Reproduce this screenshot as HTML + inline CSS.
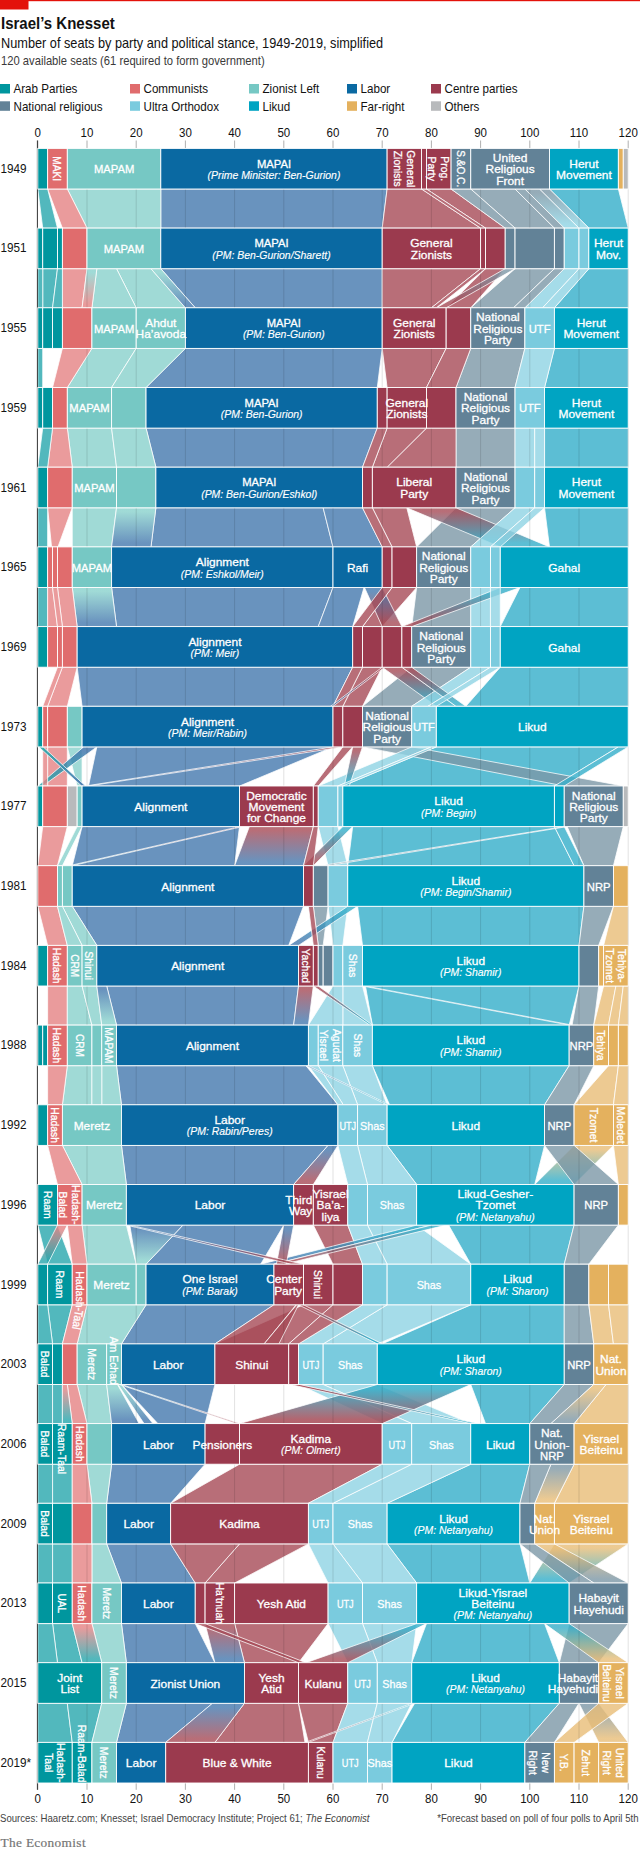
<!DOCTYPE html>
<html lang="en"><head><meta charset="utf-8"><title>Israel’s Knesset</title>
<style>html,body{margin:0;padding:0;background:#fff}svg{display:block}</style></head>
<body>
<svg width="640" height="1851" viewBox="0 0 640 1851" font-family='"Liberation Sans", sans-serif'>
<defs><linearGradient id="g1" x1="0" y1="0" x2="0" y2="1"><stop offset="0.1" stop-color="#7C97A6"/><stop offset="0.9" stop-color="#8ED3E3"/></linearGradient><linearGradient id="g2" x1="0" y1="0" x2="0" y2="1"><stop offset="0.1" stop-color="#7C97A6"/><stop offset="0.9" stop-color="#8ED3E3"/></linearGradient><linearGradient id="g3" x1="0" y1="0" x2="0" y2="1"><stop offset="0.1" stop-color="#88D1CC"/><stop offset="0.9" stop-color="#E58283"/></linearGradient><linearGradient id="g4" x1="0" y1="0" x2="0" y2="1"><stop offset="0.1" stop-color="#88D1CC"/><stop offset="0.9" stop-color="#4478AE"/></linearGradient><linearGradient id="g5" x1="0" y1="0" x2="0" y2="1"><stop offset="0.1" stop-color="#7C97A6"/><stop offset="0.9" stop-color="#A64A56"/></linearGradient><linearGradient id="g6" x1="0" y1="0" x2="0" y2="1"><stop offset="0.1" stop-color="#A64A56"/><stop offset="0.9" stop-color="#33AEC9"/></linearGradient><linearGradient id="g7" x1="0" y1="0" x2="0" y2="1"><stop offset="0.1" stop-color="#88D1CC"/><stop offset="0.9" stop-color="#4478AE"/></linearGradient><linearGradient id="g8" x1="0" y1="0" x2="0" y2="1"><stop offset="0.1" stop-color="#88D1CC"/><stop offset="0.9" stop-color="#4478AE"/></linearGradient><linearGradient id="g9" x1="0" y1="0" x2="0" y2="1"><stop offset="0.1" stop-color="#4478AE"/><stop offset="0.9" stop-color="#A64A56"/></linearGradient><linearGradient id="g10" x1="0" y1="0" x2="0" y2="1"><stop offset="0.1" stop-color="#33AEC9"/><stop offset="0.9" stop-color="#A64A56"/></linearGradient><linearGradient id="g11" x1="0" y1="0" x2="0" y2="1"><stop offset="0.1" stop-color="#A64A56"/><stop offset="0.9" stop-color="#33AEC9"/></linearGradient><linearGradient id="g12" x1="0" y1="0" x2="0" y2="1"><stop offset="0.1" stop-color="#A64A56"/><stop offset="0.9" stop-color="#33AEC9"/></linearGradient><linearGradient id="g13" x1="0" y1="0" x2="0" y2="1"><stop offset="0.1" stop-color="#A64A56"/><stop offset="0.9" stop-color="#4478AE"/></linearGradient><linearGradient id="g14" x1="0" y1="0" x2="0" y2="1"><stop offset="0.1" stop-color="#4478AE"/><stop offset="0.9" stop-color="#27A6AC"/></linearGradient><linearGradient id="g15" x1="0" y1="0" x2="0" y2="1"><stop offset="0.1" stop-color="#A64A56"/><stop offset="0.9" stop-color="#33AEC9"/></linearGradient><linearGradient id="g16" x1="0" y1="0" x2="0" y2="1"><stop offset="0.1" stop-color="#A64A56"/><stop offset="0.9" stop-color="#4478AE"/></linearGradient><linearGradient id="g17" x1="0" y1="0" x2="0" y2="1"><stop offset="0.1" stop-color="#27A6AC"/><stop offset="0.9" stop-color="#4478AE"/></linearGradient><linearGradient id="g18" x1="0" y1="0" x2="0" y2="1"><stop offset="0.1" stop-color="#A64A56"/><stop offset="0.9" stop-color="#4478AE"/></linearGradient><linearGradient id="g19" x1="0" y1="0" x2="0" y2="1"><stop offset="0.1" stop-color="#33AEC9"/><stop offset="0.9" stop-color="#A64A56"/></linearGradient><linearGradient id="g20" x1="0" y1="0" x2="0" y2="1"><stop offset="0.1" stop-color="#A64A56"/><stop offset="0.9" stop-color="#88D1CC"/></linearGradient><linearGradient id="g21" x1="0" y1="0" x2="0" y2="1"><stop offset="0.1" stop-color="#33AEC9"/><stop offset="0.9" stop-color="#4478AE"/></linearGradient><linearGradient id="g22" x1="0" y1="0" x2="0" y2="1"><stop offset="0.1" stop-color="#A64A56"/><stop offset="0.9" stop-color="#4478AE"/></linearGradient><linearGradient id="g23" x1="0" y1="0" x2="0" y2="1"><stop offset="0.1" stop-color="#4478AE"/><stop offset="0.9" stop-color="#88D1CC"/></linearGradient><linearGradient id="g24" x1="0" y1="0" x2="0" y2="1"><stop offset="0.1" stop-color="#A64A56"/><stop offset="0.9" stop-color="#33AEC9"/></linearGradient><linearGradient id="g25" x1="0" y1="0" x2="0" y2="1"><stop offset="0.1" stop-color="#33AEC9"/><stop offset="0.9" stop-color="#7C97A6"/></linearGradient><linearGradient id="g26" x1="0" y1="0" x2="0" y2="1"><stop offset="0.1" stop-color="#4478AE"/><stop offset="0.9" stop-color="#33AEC9"/></linearGradient><linearGradient id="g27" x1="0" y1="0" x2="0" y2="1"><stop offset="0.1" stop-color="#E8BD77"/><stop offset="0.9" stop-color="#33AEC9"/></linearGradient><linearGradient id="g28" x1="0" y1="0" x2="0" y2="1"><stop offset="0.1" stop-color="#4478AE"/><stop offset="0.9" stop-color="#A64A56"/></linearGradient><linearGradient id="g29" x1="0" y1="0" x2="0" y2="1"><stop offset="0.1" stop-color="#4478AE"/><stop offset="0.9" stop-color="#88D1CC"/></linearGradient><linearGradient id="g30" x1="0" y1="0" x2="0" y2="1"><stop offset="0.1" stop-color="#33AEC9"/><stop offset="0.9" stop-color="#4478AE"/></linearGradient><linearGradient id="g31" x1="0" y1="0" x2="0" y2="1"><stop offset="0.1" stop-color="#33AEC9"/><stop offset="0.9" stop-color="#A64A56"/></linearGradient><linearGradient id="g32" x1="0" y1="0" x2="0" y2="1"><stop offset="0.1" stop-color="#E58283"/><stop offset="0.9" stop-color="#27A6AC"/></linearGradient><linearGradient id="g33" x1="0" y1="0" x2="0" y2="1"><stop offset="0.1" stop-color="#4478AE"/><stop offset="0.9" stop-color="#A64A56"/></linearGradient><linearGradient id="g34" x1="0" y1="0" x2="0" y2="1"><stop offset="0.1" stop-color="#4478AE"/><stop offset="0.9" stop-color="#A64A56"/></linearGradient><linearGradient id="g35" x1="0" y1="0" x2="0" y2="1"><stop offset="0.1" stop-color="#A64A56"/><stop offset="0.9" stop-color="#33AEC9"/></linearGradient><linearGradient id="g36" x1="0" y1="0" x2="0" y2="1"><stop offset="0.1" stop-color="#88D1CC"/><stop offset="0.9" stop-color="#4478AE"/></linearGradient><linearGradient id="g37" x1="0" y1="0" x2="0" y2="1"><stop offset="0.1" stop-color="#E8BD77"/><stop offset="0.9" stop-color="#7C97A6"/></linearGradient><linearGradient id="g38" x1="0" y1="0" x2="0" y2="1"><stop offset="0.1" stop-color="#E58283"/><stop offset="0.9" stop-color="#27A6AC"/></linearGradient><linearGradient id="g39" x1="0" y1="0" x2="0" y2="1"><stop offset="0.1" stop-color="#88D1CC"/><stop offset="0.9" stop-color="#4478AE"/></linearGradient><linearGradient id="g40" x1="0" y1="0" x2="0" y2="1"><stop offset="0.1" stop-color="#88D1CC"/><stop offset="0.9" stop-color="#A64A56"/></linearGradient><linearGradient id="g41" x1="0" y1="0" x2="0" y2="1"><stop offset="0.1" stop-color="#33AEC9"/><stop offset="0.9" stop-color="#A64A56"/></linearGradient><linearGradient id="g42" x1="0" y1="0" x2="0" y2="1"><stop offset="0.1" stop-color="#A64A56"/><stop offset="0.9" stop-color="#33AEC9"/></linearGradient><linearGradient id="g43" x1="0" y1="0" x2="0" y2="1"><stop offset="0.1" stop-color="#7C97A6"/><stop offset="0.9" stop-color="#E8BD77"/></linearGradient><linearGradient id="g44" x1="0" y1="0" x2="0" y2="1"><stop offset="0.1" stop-color="#E8BD77"/><stop offset="0.9" stop-color="#33AEC9"/></linearGradient><linearGradient id="g45" x1="0" y1="0" x2="0" y2="1"><stop offset="0.1" stop-color="#E8BD77"/><stop offset="0.9" stop-color="#7C97A6"/></linearGradient><linearGradient id="g46" x1="0" y1="0" x2="0" y2="1"><stop offset="0.1" stop-color="#A64A56"/><stop offset="0.9" stop-color="#4478AE"/></linearGradient><linearGradient id="g47" x1="0" y1="0" x2="0" y2="1"><stop offset="0.1" stop-color="#33AEC9"/><stop offset="0.9" stop-color="#E8BD77"/></linearGradient><linearGradient id="g48" x1="0" y1="0" x2="0" y2="1"><stop offset="0.1" stop-color="#33AEC9"/><stop offset="0.9" stop-color="#A64A56"/></linearGradient><linearGradient id="g49" x1="0" y1="0" x2="0" y2="1"><stop offset="0.1" stop-color="#E58283"/><stop offset="0.9" stop-color="#27A6AC"/></linearGradient><linearGradient id="g50" x1="0" y1="0" x2="0" y2="1"><stop offset="0.1" stop-color="#4478AE"/><stop offset="0.9" stop-color="#A64A56"/></linearGradient><linearGradient id="g51" x1="0" y1="0" x2="0" y2="1"><stop offset="0.1" stop-color="#7C97A6"/><stop offset="0.9" stop-color="#E8BD77"/></linearGradient><linearGradient id="g52" x1="0" y1="0" x2="0" y2="1"><stop offset="0.1" stop-color="#33AEC9"/><stop offset="0.9" stop-color="#A64A56"/></linearGradient></defs>
<rect x="0" y="0" width="640" height="1.2" fill="#E3120B"/>
<rect x="0" y="0" width="28.5" height="9.5" fill="#E3120B"/>
<text transform="translate(1,29) scale(0.95,1)" font-size="15.8" fill="#121212" font-weight="bold">Israel’s Knesset</text>
<text transform="translate(1,47.6) scale(0.91,1)" font-size="14" fill="#121212">Number of seats by party and political stance, 1949-2019, simplified</text>
<text transform="translate(1,65.3) scale(0.87,1)" font-size="12.9" fill="#3a3a3a">120 available seats (61 required to form government)</text>
<rect x="0" y="84" width="10" height="9.5" fill="#00969E"/>
<text transform="translate(13.5,93.2) scale(0.93,1)" font-size="12.5" fill="#121212">Arab Parties</text>
<rect x="130" y="84" width="10" height="9.5" fill="#E06C6D"/>
<text transform="translate(143.5,93.2) scale(0.93,1)" font-size="12.5" fill="#121212">Communists</text>
<rect x="249" y="84" width="10" height="9.5" fill="#76C8C4"/>
<text transform="translate(262.5,93.2) scale(0.93,1)" font-size="12.5" fill="#121212">Zionist Left</text>
<rect x="347" y="84" width="10" height="9.5" fill="#0A69A2"/>
<text transform="translate(360.5,93.2) scale(0.93,1)" font-size="12.5" fill="#121212">Labor</text>
<rect x="431" y="84" width="10" height="9.5" fill="#9B3A4E"/>
<text transform="translate(444.5,93.2) scale(0.93,1)" font-size="12.5" fill="#121212">Centre parties</text>
<rect x="0" y="101.3" width="10" height="9.5" fill="#628297"/>
<text transform="translate(13.5,110.5) scale(0.93,1)" font-size="12.5" fill="#121212">National religious</text>
<rect x="130" y="101.3" width="10" height="9.5" fill="#7ACBDE"/>
<text transform="translate(143.5,110.5) scale(0.93,1)" font-size="12.5" fill="#121212">Ultra Orthodox</text>
<rect x="249" y="101.3" width="10" height="9.5" fill="#00A4C2"/>
<text transform="translate(262.5,110.5) scale(0.93,1)" font-size="12.5" fill="#121212">Likud</text>
<rect x="347" y="101.3" width="10" height="9.5" fill="#E4B15E"/>
<text transform="translate(360.5,110.5) scale(0.93,1)" font-size="12.5" fill="#121212">Far-right</text>
<rect x="431" y="101.3" width="10" height="9.5" fill="#B8BABC"/>
<text transform="translate(444.5,110.5) scale(0.93,1)" font-size="12.5" fill="#121212">Others</text>
<text transform="translate(37.8,137) scale(0.9,1)" font-size="12.8" fill="#121212" text-anchor="middle">0</text>
<text transform="translate(37.8,1802.6) scale(0.9,1)" font-size="12.8" fill="#121212" text-anchor="middle">0</text>
<line x1="37.8" y1="140.5" x2="37.8" y2="148.4" stroke="#9a9a9a" stroke-width="0.8"/>
<line x1="37.8" y1="1783" x2="37.8" y2="1789.8" stroke="#9a9a9a" stroke-width="0.8"/>
<text transform="translate(87,137) scale(0.9,1)" font-size="12.8" fill="#121212" text-anchor="middle">10</text>
<text transform="translate(87,1802.6) scale(0.9,1)" font-size="12.8" fill="#121212" text-anchor="middle">10</text>
<line x1="87" y1="140.5" x2="87" y2="148.4" stroke="#9a9a9a" stroke-width="0.8"/>
<line x1="87" y1="1783" x2="87" y2="1789.8" stroke="#9a9a9a" stroke-width="0.8"/>
<text transform="translate(136.2,137) scale(0.9,1)" font-size="12.8" fill="#121212" text-anchor="middle">20</text>
<text transform="translate(136.2,1802.6) scale(0.9,1)" font-size="12.8" fill="#121212" text-anchor="middle">20</text>
<line x1="136.2" y1="140.5" x2="136.2" y2="148.4" stroke="#9a9a9a" stroke-width="0.8"/>
<line x1="136.2" y1="1783" x2="136.2" y2="1789.8" stroke="#9a9a9a" stroke-width="0.8"/>
<text transform="translate(185.4,137) scale(0.9,1)" font-size="12.8" fill="#121212" text-anchor="middle">30</text>
<text transform="translate(185.4,1802.6) scale(0.9,1)" font-size="12.8" fill="#121212" text-anchor="middle">30</text>
<line x1="185.4" y1="140.5" x2="185.4" y2="148.4" stroke="#9a9a9a" stroke-width="0.8"/>
<line x1="185.4" y1="1783" x2="185.4" y2="1789.8" stroke="#9a9a9a" stroke-width="0.8"/>
<text transform="translate(234.6,137) scale(0.9,1)" font-size="12.8" fill="#121212" text-anchor="middle">40</text>
<text transform="translate(234.6,1802.6) scale(0.9,1)" font-size="12.8" fill="#121212" text-anchor="middle">40</text>
<line x1="234.6" y1="140.5" x2="234.6" y2="148.4" stroke="#9a9a9a" stroke-width="0.8"/>
<line x1="234.6" y1="1783" x2="234.6" y2="1789.8" stroke="#9a9a9a" stroke-width="0.8"/>
<text transform="translate(283.8,137) scale(0.9,1)" font-size="12.8" fill="#121212" text-anchor="middle">50</text>
<text transform="translate(283.8,1802.6) scale(0.9,1)" font-size="12.8" fill="#121212" text-anchor="middle">50</text>
<line x1="283.8" y1="140.5" x2="283.8" y2="148.4" stroke="#9a9a9a" stroke-width="0.8"/>
<line x1="283.8" y1="1783" x2="283.8" y2="1789.8" stroke="#9a9a9a" stroke-width="0.8"/>
<text transform="translate(333,137) scale(0.9,1)" font-size="12.8" fill="#121212" text-anchor="middle">60</text>
<text transform="translate(333,1802.6) scale(0.9,1)" font-size="12.8" fill="#121212" text-anchor="middle">60</text>
<line x1="333" y1="140.5" x2="333" y2="148.4" stroke="#9a9a9a" stroke-width="0.8"/>
<line x1="333" y1="1783" x2="333" y2="1789.8" stroke="#9a9a9a" stroke-width="0.8"/>
<text transform="translate(382.2,137) scale(0.9,1)" font-size="12.8" fill="#121212" text-anchor="middle">70</text>
<text transform="translate(382.2,1802.6) scale(0.9,1)" font-size="12.8" fill="#121212" text-anchor="middle">70</text>
<line x1="382.2" y1="140.5" x2="382.2" y2="148.4" stroke="#9a9a9a" stroke-width="0.8"/>
<line x1="382.2" y1="1783" x2="382.2" y2="1789.8" stroke="#9a9a9a" stroke-width="0.8"/>
<text transform="translate(431.4,137) scale(0.9,1)" font-size="12.8" fill="#121212" text-anchor="middle">80</text>
<text transform="translate(431.4,1802.6) scale(0.9,1)" font-size="12.8" fill="#121212" text-anchor="middle">80</text>
<line x1="431.4" y1="140.5" x2="431.4" y2="148.4" stroke="#9a9a9a" stroke-width="0.8"/>
<line x1="431.4" y1="1783" x2="431.4" y2="1789.8" stroke="#9a9a9a" stroke-width="0.8"/>
<text transform="translate(480.6,137) scale(0.9,1)" font-size="12.8" fill="#121212" text-anchor="middle">90</text>
<text transform="translate(480.6,1802.6) scale(0.9,1)" font-size="12.8" fill="#121212" text-anchor="middle">90</text>
<line x1="480.6" y1="140.5" x2="480.6" y2="148.4" stroke="#9a9a9a" stroke-width="0.8"/>
<line x1="480.6" y1="1783" x2="480.6" y2="1789.8" stroke="#9a9a9a" stroke-width="0.8"/>
<text transform="translate(529.8,137) scale(0.9,1)" font-size="12.8" fill="#121212" text-anchor="middle">100</text>
<text transform="translate(529.8,1802.6) scale(0.9,1)" font-size="12.8" fill="#121212" text-anchor="middle">100</text>
<line x1="529.8" y1="140.5" x2="529.8" y2="148.4" stroke="#9a9a9a" stroke-width="0.8"/>
<line x1="529.8" y1="1783" x2="529.8" y2="1789.8" stroke="#9a9a9a" stroke-width="0.8"/>
<text transform="translate(579,137) scale(0.9,1)" font-size="12.8" fill="#121212" text-anchor="middle">110</text>
<text transform="translate(579,1802.6) scale(0.9,1)" font-size="12.8" fill="#121212" text-anchor="middle">110</text>
<line x1="579" y1="140.5" x2="579" y2="148.4" stroke="#9a9a9a" stroke-width="0.8"/>
<line x1="579" y1="1783" x2="579" y2="1789.8" stroke="#9a9a9a" stroke-width="0.8"/>
<text transform="translate(628.2,137) scale(0.9,1)" font-size="12.8" fill="#121212" text-anchor="middle">120</text>
<text transform="translate(628.2,1802.6) scale(0.9,1)" font-size="12.8" fill="#121212" text-anchor="middle">120</text>
<line x1="628.2" y1="140.5" x2="628.2" y2="148.4" stroke="#9a9a9a" stroke-width="0.8"/>
<line x1="628.2" y1="1783" x2="628.2" y2="1789.8" stroke="#9a9a9a" stroke-width="0.8"/>
<g fill-opacity="0.8" stroke="#fff" stroke-width="0.8" stroke-opacity="0.95" stroke-linejoin="round">
<polygon points="160.8,189 387.12,189 382.2,228.1 160.8,228.1" fill="#4478AE"/>
<polygon points="67.32,189 160.8,189 160.8,228.1 87,228.1" fill="#88D1CC"/>
<polygon points="387.12,189 421.56,189 480.6,228.1 382.2,228.1" fill="#A64A56"/>
<polygon points="549.48,189 618.36,189 628.2,228.1 588.84,228.1" fill="#33AEC9"/>
<polygon points="470.76,189 515.04,189 554.4,228.1 515.04,228.1" fill="#7C97A6"/>
<polygon points="47.64,189 67.32,189 87,228.1 62.4,228.1" fill="#E58283"/>
<polygon points="426.48,189 451.08,189 505.2,228.1 485.52,228.1" fill="#A64A56"/>
<polygon points="451.08,189 470.76,189 515.04,228.1 505.2,228.1" fill="#7C97A6"/>
<polygon points="524.88,189 539.64,189 579,228.1 564.24,228.1" fill="url(#g1)"/>
<polygon points="37.8,189 47.64,189 57.48,228.1 42.72,228.1" fill="#27A6AC"/>
<polygon points="515.04,189 524.88,189 564.24,228.1 554.4,228.1" fill="#7C97A6"/>
<polygon points="539.64,189 549.48,189 588.84,228.1 579,228.1" fill="url(#g2)"/>
<polygon points="421.56,189 426.48,189 485.52,228.1 480.6,228.1" fill="#A64A56"/>
<polygon points="160.8,268.7 382.2,268.7 382.2,307.8 195.24,307.8" fill="#4478AE"/>
<polygon points="382.2,268.7 480.6,268.7 431.4,307.8 382.2,307.8" fill="#A64A56"/>
<polygon points="588.84,268.7 628.2,268.7 628.2,307.8 554.4,307.8" fill="#33AEC9"/>
<polygon points="116.52,268.7 150.96,268.7 185.4,307.8 136.2,307.8" fill="#88D1CC"/>
<polygon points="515.04,268.7 554.4,268.7 513.56,307.8 470.76,307.8" fill="#7C97A6"/>
<polygon points="96.84,268.7 116.52,268.7 136.2,307.8 91.92,307.8" fill="#88D1CC"/>
<polygon points="62.4,268.7 87,268.7 82.08,307.8 62.4,307.8" fill="#E58283"/>
<polygon points="485.52,268.7 505.2,268.7 470.76,307.8 446.16,307.8" fill="#A64A56"/>
<polygon points="564.24,268.7 579,268.7 542.59,307.8 524.88,307.8" fill="#8ED3E3"/>
<polygon points="42.72,268.7 57.48,268.7 52.56,307.8 42.72,307.8" fill="#27A6AC"/>
<polygon points="579,268.7 588.84,268.7 554.4,307.8 542.59,307.8" fill="#8ED3E3"/>
<polygon points="554.4,268.7 564.24,268.7 524.88,307.8 513.56,307.8" fill="#7C97A6"/>
<polygon points="87,268.7 96.84,268.7 91.92,307.8 82.08,307.8" fill="url(#g3)"/>
<polygon points="150.96,268.7 160.8,268.7 195.24,307.8 185.4,307.8" fill="url(#g4)"/>
<polygon points="505.2,268.7 515.04,268.7 446.16,307.8 436.32,307.8" fill="url(#g5)"/>
<polygon points="57.48,268.7 62.4,268.7 62.4,307.8 52.56,307.8" fill="#27A6AC"/>
<polygon points="37.8,268.7 42.72,268.7 42.72,307.8 37.8,307.8" fill="#27A6AC"/>
<polygon points="480.6,268.7 485.52,268.7 436.32,307.8 431.4,307.8" fill="#A64A56"/>
<polygon points="185.4,348.4 382.2,348.4 377.28,387.5 146.04,387.5" fill="#4478AE"/>
<polygon points="554.4,348.4 628.2,348.4 628.2,387.5 544.56,387.5" fill="#33AEC9"/>
<polygon points="470.76,348.4 524.88,348.4 515.04,387.5 456,387.5" fill="#7C97A6"/>
<polygon points="382.2,348.4 446.16,348.4 426.48,387.5 387.12,387.5" fill="#A64A56"/>
<polygon points="91.92,348.4 136.2,348.4 111.6,387.5 67.32,387.5" fill="#88D1CC"/>
<polygon points="136.2,348.4 185.4,348.4 146.04,387.5 111.6,387.5" fill="#88D1CC"/>
<polygon points="524.88,348.4 554.4,348.4 544.56,387.5 515.04,387.5" fill="#8ED3E3"/>
<polygon points="446.16,348.4 470.76,348.4 456,387.5 426.48,387.5" fill="#A64A56"/>
<polygon points="62.4,348.4 91.92,348.4 67.32,387.5 52.56,387.5" fill="#E58283"/>
<polygon points="37.8,348.4 42.72,348.4 42.72,387.5 37.8,387.5" fill="#27A6AC"/>
<polygon points="146.04,428.1 377.28,428.1 362.52,467.2 155.88,467.2" fill="#4478AE"/>
<polygon points="544.56,428.1 628.2,428.1 628.2,467.2 544.56,467.2" fill="#33AEC9"/>
<polygon points="456,428.1 515.04,428.1 515.04,467.2 456,467.2" fill="#7C97A6"/>
<polygon points="426.48,428.1 456,428.1 456,467.2 387.12,467.2" fill="#A64A56"/>
<polygon points="67.32,428.1 111.6,428.1 116.52,467.2 72.24,467.2" fill="#88D1CC"/>
<polygon points="111.6,428.1 146.04,428.1 155.88,467.2 116.52,467.2" fill="#88D1CC"/>
<polygon points="387.12,428.1 426.48,428.1 387.12,467.2 372.36,467.2" fill="#A64A56"/>
<polygon points="52.56,428.1 67.32,428.1 72.24,467.2 47.64,467.2" fill="#E58283"/>
<polygon points="515.04,428.1 534.72,428.1 534.72,467.2 515.04,467.2" fill="#8ED3E3"/>
<polygon points="42.72,428.1 52.56,428.1 47.64,467.2 37.8,467.2" fill="#27A6AC"/>
<polygon points="377.28,428.1 387.12,428.1 372.36,467.2 362.52,467.2" fill="#A64A56"/>
<polygon points="534.72,428.1 544.56,428.1 544.56,467.2 534.72,467.2" fill="#8ED3E3"/>
<polygon points="155.88,507.8 323.16,507.8 333,546.9 150.96,546.9" fill="#4478AE"/>
<polygon points="544.56,507.8 628.2,507.8 628.2,546.9 549.48,546.9" fill="#33AEC9"/>
<polygon points="456,507.8 515.04,507.8 470.76,546.9 416.64,546.9" fill="#7C97A6"/>
<polygon points="406.8,507.8 456,507.8 549.48,546.9 500.28,546.9" fill="url(#g6)"/>
<polygon points="323.16,507.8 362.52,507.8 382.2,546.9 333,546.9" fill="#4478AE"/>
<polygon points="72.24,507.8 116.52,507.8 111.6,546.9 72.24,546.9" fill="#88D1CC"/>
<polygon points="116.52,507.8 155.88,507.8 150.96,546.9 111.6,546.9" fill="url(#g7)"/>
<polygon points="372.36,507.8 406.8,507.8 416.64,546.9 392.04,546.9" fill="#A64A56"/>
<polygon points="515.04,507.8 534.72,507.8 490.44,546.9 470.76,546.9" fill="#8ED3E3"/>
<polygon points="47.64,507.8 72.24,507.8 57.97,546.9 51.58,546.9" fill="#E58283"/>
<polygon points="37.8,507.8 47.64,507.8 47.64,546.9 37.8,546.9" fill="#27A6AC"/>
<polygon points="362.52,507.8 372.36,507.8 392.04,546.9 382.2,546.9" fill="#A64A56"/>
<polygon points="534.72,507.8 544.56,507.8 500.28,546.9 490.44,546.9" fill="#8ED3E3"/>
<polygon points="111.6,587.5 333,587.5 318.24,626.6 116.52,626.6" fill="#4478AE"/>
<polygon points="519.96,587.5 628.2,587.5 628.2,626.6 500.28,626.6" fill="#33AEC9"/>
<polygon points="416.64,587.5 470.76,587.5 470.76,626.6 411.72,626.6" fill="#7C97A6"/>
<polygon points="72.24,587.5 111.6,587.5 116.52,626.6 77.16,626.6" fill="url(#g8)"/>
<polygon points="333,587.5 364,587.5 352.68,626.6 318.24,626.6" fill="#4478AE"/>
<polygon points="392.04,587.5 416.64,587.5 382.2,626.6 362.52,626.6" fill="#A64A56"/>
<polygon points="470.76,587.5 490.44,587.5 490.44,626.6 470.76,626.6" fill="#8ED3E3"/>
<polygon points="364.49,587.5 382.2,587.5 401.88,626.6 382.2,626.6" fill="url(#g9)"/>
<polygon points="57.48,587.5 72.24,587.5 77.16,626.6 62.4,626.6" fill="#E58283"/>
<polygon points="500.28,587.5 519.96,587.5 411.72,626.6 401.88,626.6" fill="url(#g10)"/>
<polygon points="37.8,587.5 47.64,587.5 47.64,626.6 37.8,626.6" fill="#27A6AC"/>
<polygon points="382.2,587.5 392.04,587.5 362.52,626.6 352.68,626.6" fill="#A64A56"/>
<polygon points="490.44,587.5 500.28,587.5 500.28,626.6 490.44,626.6" fill="#8ED3E3"/>
<polygon points="47.64,587.5 52.56,587.5 57.48,626.6 47.64,626.6" fill="#E58283"/>
<polygon points="52.56,587.5 57.48,587.5 62.4,626.6 57.48,626.6" fill="#E58283"/>
<polygon points="77.16,667.2 352.68,667.2 333,706.3 82.08,706.3" fill="#4478AE"/>
<polygon points="500.28,667.2 628.2,667.2 628.2,706.3 465.84,706.3" fill="#33AEC9"/>
<polygon points="411.72,667.2 470.76,667.2 411.72,706.3 362.52,706.3" fill="#7C97A6"/>
<polygon points="362.52,667.2 382.2,667.2 362.52,706.3 342.84,706.3" fill="#A64A56"/>
<polygon points="382.2,667.2 401.88,667.2 456,706.3 436.32,706.3" fill="url(#g11)"/>
<polygon points="470.76,667.2 490.44,667.2 427.96,706.3 411.72,706.3" fill="#8ED3E3"/>
<polygon points="62.4,667.2 77.16,667.2 67.32,706.3 47.64,706.3" fill="#E58283"/>
<polygon points="352.68,667.2 362.52,667.2 342.84,706.3 333,706.3" fill="#A64A56"/>
<polygon points="401.88,667.2 411.72,667.2 465.84,706.3 456,706.3" fill="url(#g12)"/>
<polygon points="490.44,667.2 500.28,667.2 436.32,706.3 427.96,706.3" fill="#8ED3E3"/>
<polygon points="57.48,667.2 62.4,667.2 47.64,706.3 42.72,706.3" fill="#E58283"/>
<polygon points="382.2,667.2 384.66,667.2 333,706.3 330.54,706.3" fill="url(#g13)" stroke-width="0.75" stroke-opacity="0.95" fill-opacity="0.75"/>
<polygon points="436.32,746.9 618.36,746.9 554.4,786 342.84,786" fill="#33AEC9"/>
<polygon points="96.84,746.9 333,746.9 239.52,786 88.48,786" fill="#4478AE"/>
<polygon points="362.52,746.9 411.72,746.9 623.28,786 564.24,786" fill="#7C97A6"/>
<polygon points="47.64,746.9 67.32,746.9 67.32,786 47.64,786" fill="#E58283"/>
<polygon points="411.72,746.9 431.4,746.9 337.92,786 318.24,786" fill="#8ED3E3"/>
<polygon points="67.32,746.9 82.08,746.9 82.08,786 77.16,786" fill="#88D1CC"/>
<polygon points="618.36,746.9 628.2,746.9 564.24,786 554.4,786" fill="#33AEC9"/>
<polygon points="83.56,746.9 96.84,746.9 42.72,786 37.8,786" fill="url(#g14)" fill-opacity="0.85"/>
<polygon points="342.84,746.9 352.68,746.9 318.24,786 313.32,786" fill="#A64A56"/>
<polygon points="352.68,746.9 362.52,746.9 349.24,786 344.32,786" fill="url(#g15)"/>
<polygon points="333,746.9 342.84,746.9 88.48,786 85.52,786" fill="url(#g16)"/>
<polygon points="42.72,746.9 47.64,746.9 47.64,786 42.72,786" fill="#E58283"/>
<polygon points="431.4,746.9 436.32,746.9 342.84,786 337.92,786" fill="#8ED3E3"/>
<polygon points="38.78,746.9 43.21,746.9 85.52,786 81.59,786" fill="url(#g17)" fill-opacity="0.9"/>
<polygon points="352.68,826.6 554.4,826.6 574.08,865.7 347.76,865.7" fill="#33AEC9"/>
<polygon points="82.08,826.6 239.52,826.6 234.6,865.7 72.24,865.7" fill="#4478AE"/>
<polygon points="249.36,826.6 313.32,826.6 303.48,865.7 234.6,865.7" fill="url(#g18)"/>
<polygon points="567.19,826.6 623.28,826.6 613.44,865.7 583.92,865.7" fill="#7C97A6"/>
<polygon points="42.72,826.6 67.32,826.6 57.48,865.7 37.8,865.7" fill="#E58283"/>
<polygon points="318.24,826.6 337.92,826.6 347.76,865.7 328.08,865.7" fill="#8ED3E3"/>
<polygon points="342.84,826.6 352.68,826.6 313.32,865.7 303.48,865.7" fill="url(#g19)"/>
<polygon points="554.4,826.6 564.24,826.6 583.92,865.7 574.08,865.7" fill="#33AEC9"/>
<polygon points="313.32,826.6 318.24,826.6 313.32,865.7 303.48,865.7" fill="#A64A56"/>
<polygon points="564.24,826.6 567.19,826.6 328.08,865.7 320.7,865.7" fill="#7C97A6"/>
<polygon points="77.16,826.6 82.08,826.6 62.4,865.7 57.48,865.7" fill="#88D1CC"/>
<polygon points="239.52,826.6 242.47,826.6 72.24,865.7 69.29,865.7" fill="url(#g20)" stroke-width="0.75" stroke-opacity="0.95" fill-opacity="0.75"/>
<polygon points="357.6,906.3 583.92,906.3 579,945.4 362.52,945.4" fill="#33AEC9"/>
<polygon points="72.24,906.3 303.48,906.3 288.72,945.4 96.84,945.4" fill="#4478AE"/>
<polygon points="583.92,906.3 613.44,906.3 598.68,945.4 579,945.4" fill="#7C97A6"/>
<polygon points="37.8,906.3 57.48,906.3 67.32,945.4 47.64,945.4" fill="#E58283"/>
<polygon points="613.44,906.3 628.2,906.3 628.2,945.4 603.6,945.4" fill="#E8BD77"/>
<polygon points="328.08,906.3 347.76,906.3 342.84,945.4 333,945.4" fill="#8ED3E3"/>
<polygon points="62.4,906.3 72.24,906.3 96.84,945.4 82.08,945.4" fill="#88D1CC"/>
<polygon points="57.48,906.3 62.4,906.3 82.08,945.4 67.32,945.4" fill="#88D1CC"/>
<polygon points="313.32,906.3 328.08,906.3 323.16,945.4 318.24,945.4" fill="#7C97A6"/>
<polygon points="347.76,906.3 357.6,906.3 298.56,945.4 288.72,945.4" fill="url(#g21)"/>
<polygon points="308.4,906.3 313.32,906.3 318.24,945.4 313.32,945.4" fill="#A64A56"/>
<polygon points="365.47,986 579,986 569.16,1025.1 372.36,1025.1" fill="#33AEC9"/>
<polygon points="106.68,986 298.56,986 293.64,1025.1 116.52,1025.1" fill="#4478AE"/>
<polygon points="342.84,986 362.52,986 372.36,1025.1 342.84,1025.1" fill="#8ED3E3"/>
<polygon points="333,986 342.84,986 342.84,1025.1 308.4,1025.1" fill="#8ED3E3"/>
<polygon points="579,986 598.68,986 593.76,1025.1 572.11,1025.1" fill="#7C97A6"/>
<polygon points="47.64,986 67.32,986 67.32,1025.1 47.64,1025.1" fill="#E58283"/>
<polygon points="67.32,986 82.08,986 91.92,1025.1 67.32,1025.1" fill="#88D1CC"/>
<polygon points="298.56,986 313.32,986 308.4,1025.1 293.64,1025.1" fill="url(#g22)"/>
<polygon points="603.6,986 615.9,986 608.52,1025.1 593.76,1025.1" fill="#E8BD77"/>
<polygon points="82.08,986 96.84,986 101.76,1025.1 91.92,1025.1" fill="#88D1CC"/>
<polygon points="96.84,986 106.68,986 116.52,1025.1 101.76,1025.1" fill="url(#g23)"/>
<polygon points="615.9,986 623.28,986 618.36,1025.1 608.52,1025.1" fill="#E8BD77"/>
<polygon points="623.28,986 628.2,986 628.2,1025.1 618.36,1025.1" fill="#E8BD77"/>
<polygon points="313.32,986 318.24,986 372.36,1025.1 369.9,1025.1" fill="url(#g24)"/>
<polygon points="362.52,986 365.47,986 572.11,1025.1 569.16,1025.1" fill="url(#g25)" stroke-width="0.75" stroke-opacity="0.95" fill-opacity="0.75"/>
<polygon points="116.52,1065.7 305.94,1065.7 337.92,1104.8 121.44,1104.8" fill="#4478AE"/>
<polygon points="372.36,1065.7 569.16,1065.7 544.56,1104.8 389.58,1104.8" fill="#33AEC9"/>
<polygon points="342.84,1065.7 372.36,1065.7 387.12,1104.8 357.6,1104.8" fill="#8ED3E3"/>
<polygon points="67.32,1065.7 91.92,1065.7 91.92,1104.8 62.4,1104.8" fill="#88D1CC"/>
<polygon points="569.16,1065.7 593.76,1065.7 574.08,1104.8 544.56,1104.8" fill="#7C97A6"/>
<polygon points="608.52,1065.7 618.36,1065.7 613.44,1104.8 574.08,1104.8" fill="#E8BD77"/>
<polygon points="318.24,1065.7 342.84,1065.7 357.6,1104.8 343.33,1104.8" fill="#8ED3E3"/>
<polygon points="47.64,1065.7 67.32,1065.7 62.4,1104.8 47.64,1104.8" fill="#E58283"/>
<polygon points="101.76,1065.7 116.52,1065.7 121.44,1104.8 101.76,1104.8" fill="#88D1CC"/>
<polygon points="618.36,1065.7 628.2,1065.7 628.2,1104.8 613.44,1104.8" fill="#E8BD77"/>
<polygon points="91.92,1065.7 101.76,1065.7 101.76,1104.8 91.92,1104.8" fill="#88D1CC"/>
<polygon points="308.4,1065.7 318.24,1065.7 343.33,1104.8 337.92,1104.8" fill="#8ED3E3"/>
<polygon points="305.94,1065.7 308.4,1065.7 389.58,1104.8 387.12,1104.8" fill="url(#g26)" stroke-width="0.75" stroke-opacity="0.95" fill-opacity="0.75"/>
<polygon points="121.44,1145.4 328.08,1145.4 293.64,1184.5 126.36,1184.5" fill="#4478AE"/>
<polygon points="387.12,1145.4 544.56,1145.4 534.72,1184.5 416.64,1184.5" fill="#33AEC9"/>
<polygon points="62.4,1145.4 121.44,1145.4 126.36,1184.5 82.08,1184.5" fill="#88D1CC"/>
<polygon points="357.6,1145.4 387.12,1145.4 416.64,1184.5 367.44,1184.5" fill="#8ED3E3"/>
<polygon points="574.08,1145.4 613.44,1145.4 574.08,1184.5 534.72,1184.5" fill="url(#g27)"/>
<polygon points="544.56,1145.4 574.08,1145.4 618.36,1184.5 574.08,1184.5" fill="#7C97A6"/>
<polygon points="47.64,1145.4 62.4,1145.4 82.08,1184.5 57.48,1184.5" fill="#E58283"/>
<polygon points="337.92,1145.4 357.6,1145.4 367.44,1184.5 347.76,1184.5" fill="#8ED3E3"/>
<polygon points="328.08,1145.4 337.92,1145.4 313.32,1184.5 293.64,1184.5" fill="url(#g28)"/>
<polygon points="613.44,1145.4 628.2,1145.4 628.2,1184.5 618.36,1184.5" fill="#E8BD77"/>
<polygon points="448.62,1225.1 574.08,1225.1 564.24,1264.2 470.76,1264.2" fill="#33AEC9"/>
<polygon points="182.94,1225.1 283.8,1225.1 260.68,1264.2 146.04,1264.2" fill="#4478AE"/>
<polygon points="367.44,1225.1 416.64,1225.1 470.76,1264.2 387.12,1264.2" fill="#8ED3E3"/>
<polygon points="82.08,1225.1 126.36,1225.1 136.2,1264.2 87,1264.2" fill="#88D1CC"/>
<polygon points="574.08,1225.1 618.36,1225.1 588.84,1264.2 564.24,1264.2" fill="#7C97A6"/>
<polygon points="313.32,1225.1 347.76,1225.1 362.52,1264.2 333,1264.2" fill="#A64A56"/>
<polygon points="129.8,1225.1 182.94,1225.1 146.04,1264.2 136.2,1264.2" fill="url(#g29)"/>
<polygon points="37.8,1225.1 57.48,1225.1 72.24,1264.2 47.64,1264.2" fill="#27A6AC"/>
<polygon points="347.76,1225.1 367.44,1225.1 387.12,1264.2 362.52,1264.2" fill="#8ED3E3"/>
<polygon points="67.32,1225.1 82.08,1225.1 87,1264.2 72.24,1264.2" fill="#E58283"/>
<polygon points="416.64,1225.1 431.4,1225.1 273.96,1264.2 260.68,1264.2" fill="url(#g30)"/>
<polygon points="431.4,1225.1 446.16,1225.1 283.8,1264.2 273.96,1264.2" fill="url(#g31)"/>
<polygon points="57.48,1225.1 67.32,1225.1 47.64,1264.2 37.8,1264.2" fill="url(#g32)"/>
<polygon points="283.8,1225.1 293.64,1225.1 286.26,1264.2 276.42,1264.2" fill="url(#g33)"/>
<polygon points="126.36,1225.1 129.8,1225.1 303.48,1264.2 291.18,1264.2" fill="url(#g34)"/>
<polygon points="470.76,1304.8 564.24,1304.8 564.24,1343.9 382.2,1343.9" fill="#33AEC9"/>
<polygon points="146.04,1304.8 273.96,1304.8 214.92,1343.9 121.44,1343.9" fill="#4478AE"/>
<polygon points="387.12,1304.8 470.76,1304.8 377.28,1343.9 323.16,1343.9" fill="#8ED3E3"/>
<polygon points="87,1304.8 146.04,1304.8 121.44,1343.9 77.16,1343.9" fill="#88D1CC"/>
<polygon points="303.48,1304.8 333,1304.8 288.72,1343.9 214.92,1343.9" fill="#A64A56"/>
<polygon points="273.96,1304.8 296.1,1304.8 264.12,1343.9 214.92,1343.9" fill="#A64A56"/>
<polygon points="564.24,1304.8 588.84,1304.8 593.76,1343.9 564.24,1343.9" fill="#7C97A6"/>
<polygon points="362.52,1304.8 387.12,1304.8 323.16,1343.9 298.56,1343.9" fill="#8ED3E3"/>
<polygon points="333,1304.8 362.52,1304.8 298.56,1343.9 288.72,1343.9" fill="#A64A56"/>
<polygon points="588.84,1304.8 608.52,1304.8 613.44,1343.9 593.76,1343.9" fill="#E8BD77"/>
<polygon points="47.64,1304.8 72.24,1304.8 62.4,1343.9 52.56,1343.9" fill="#27A6AC"/>
<polygon points="608.52,1304.8 628.2,1304.8 628.2,1343.9 613.44,1343.9" fill="#E8BD77"/>
<polygon points="72.24,1304.8 87,1304.8 77.16,1343.9 62.4,1343.9" fill="#E58283"/>
<polygon points="37.8,1304.8 47.64,1304.8 52.56,1343.9 37.8,1343.9" fill="#27A6AC"/>
<polygon points="296.59,1304.8 298.56,1304.8 278.88,1343.9 264.12,1343.9" fill="#A64A56"/>
<polygon points="298.56,1304.8 303.48,1304.8 382.2,1343.9 377.28,1343.9" fill="url(#g35)" fill-opacity="0.85"/>
<polygon points="121.44,1384.5 214.92,1384.5 205.08,1423.6 157.85,1423.6" fill="#4478AE"/>
<polygon points="470.76,1384.5 564.24,1384.5 529.8,1423.6 485.52,1423.6" fill="#33AEC9"/>
<polygon points="323.16,1384.5 377.28,1384.5 470.76,1423.6 411.72,1423.6" fill="#8ED3E3"/>
<polygon points="606.06,1384.5 628.2,1384.5 628.2,1423.6 574.08,1423.6" fill="#E8BD77"/>
<polygon points="77.16,1384.5 106.68,1384.5 111.6,1423.6 87,1423.6" fill="#88D1CC"/>
<polygon points="298.56,1384.5 323.16,1384.5 411.72,1423.6 382.2,1423.6" fill="#8ED3E3"/>
<polygon points="564.24,1384.5 593.76,1384.5 550.96,1423.6 529.8,1423.6" fill="#7C97A6"/>
<polygon points="106.68,1384.5 117.5,1384.5 139.15,1423.6 111.6,1423.6" fill="url(#g36)"/>
<polygon points="593.76,1384.5 606.06,1384.5 574.08,1423.6 550.96,1423.6" fill="url(#g37)"/>
<polygon points="37.8,1384.5 52.56,1384.5 52.56,1423.6 37.8,1423.6" fill="#27A6AC"/>
<polygon points="67.32,1384.5 77.16,1384.5 87,1423.6 72.24,1423.6" fill="#E58283"/>
<polygon points="52.56,1384.5 62.4,1384.5 62.4,1423.6 52.56,1423.6" fill="#27A6AC"/>
<polygon points="62.4,1384.5 67.32,1384.5 72.24,1423.6 62.4,1423.6" fill="url(#g38)"/>
<polygon points="118,1384.5 121.44,1384.5 152.93,1423.6 144.07,1423.6" fill="url(#g39)"/>
<polygon points="119.47,1384.5 121.44,1384.5 239.52,1423.6 236.08,1423.6" fill="url(#g40)" stroke-width="0.75" stroke-opacity="0.95" fill-opacity="0.75"/>
<polygon points="377.28,1384.5 470.76,1384.5 382.2,1423.6 239.52,1423.6" fill="url(#g41)" fill-opacity="0.85"/>
<polygon points="290.2,1384.5 299.54,1384.5 477.16,1423.6 470.76,1423.6" fill="url(#g42)" fill-opacity="0.95"/>
<polygon points="239.52,1464.2 382.2,1464.2 308.4,1503.3 170.64,1503.3" fill="#A64A56"/>
<polygon points="470.76,1464.2 529.8,1464.2 519.96,1503.3 387.12,1503.3" fill="#33AEC9"/>
<polygon points="111.6,1464.2 205.08,1464.2 170.64,1503.3 106.68,1503.3" fill="#4478AE"/>
<polygon points="574.08,1464.2 628.2,1464.2 628.2,1503.3 554.4,1503.3" fill="#E8BD77"/>
<polygon points="411.72,1464.2 470.76,1464.2 387.12,1503.3 333,1503.3" fill="#8ED3E3"/>
<polygon points="382.2,1464.2 411.72,1464.2 333,1503.3 308.4,1503.3" fill="#8ED3E3"/>
<polygon points="550.96,1464.2 574.08,1464.2 554.4,1503.3 534.72,1503.3" fill="url(#g43)"/>
<polygon points="52.56,1464.2 72.24,1464.2 72.24,1503.3 52.56,1503.3" fill="#27A6AC"/>
<polygon points="87,1464.2 111.6,1464.2 106.68,1503.3 91.92,1503.3" fill="#88D1CC"/>
<polygon points="529.8,1464.2 550.96,1464.2 534.72,1503.3 519.96,1503.3" fill="#7C97A6"/>
<polygon points="72.24,1464.2 87,1464.2 91.92,1503.3 72.24,1503.3" fill="#E58283"/>
<polygon points="37.8,1464.2 52.56,1464.2 52.56,1503.3 37.8,1503.3" fill="#27A6AC"/>
<polygon points="387.12,1543.9 519.96,1543.9 529.8,1583 416.64,1583" fill="#33AEC9"/>
<polygon points="106.68,1543.9 170.64,1543.9 195.24,1583 121.44,1583" fill="#4478AE"/>
<polygon points="554.4,1543.9 628.2,1543.9 569.16,1583 529.8,1583" fill="url(#g44)"/>
<polygon points="333,1543.9 387.12,1543.9 416.64,1583 362.52,1583" fill="#8ED3E3"/>
<polygon points="239.52,1543.9 308.4,1543.9 234.6,1583 205.08,1583" fill="#A64A56"/>
<polygon points="170.64,1543.9 239.52,1543.9 205.08,1583 195.24,1583" fill="#A64A56"/>
<polygon points="308.4,1543.9 333,1543.9 362.52,1583 328.08,1583" fill="#8ED3E3"/>
<polygon points="534.72,1543.9 554.4,1543.9 628.2,1583 593.76,1583" fill="url(#g45)"/>
<polygon points="91.92,1543.9 106.68,1543.9 121.44,1583 91.92,1583" fill="#88D1CC"/>
<polygon points="52.56,1543.9 72.24,1543.9 72.24,1583 52.56,1583" fill="#27A6AC"/>
<polygon points="72.24,1543.9 91.92,1543.9 91.92,1583 72.24,1583" fill="#E58283"/>
<polygon points="519.96,1543.9 534.72,1543.9 593.76,1583 569.16,1583" fill="#7C97A6"/>
<polygon points="37.8,1543.9 52.56,1543.9 52.56,1583 37.8,1583" fill="#27A6AC"/>
<polygon points="426.48,1623.6 544.56,1623.6 559.32,1662.7 411.72,1662.7" fill="#33AEC9"/>
<polygon points="121.44,1623.6 195.24,1623.6 214.92,1662.7 126.36,1662.7" fill="#4478AE"/>
<polygon points="234.6,1623.6 328.08,1623.6 298.56,1662.7 244.44,1662.7" fill="#A64A56"/>
<polygon points="569.16,1623.6 628.2,1623.6 598.68,1662.7 559.32,1662.7" fill="#7C97A6"/>
<polygon points="362.52,1623.6 416.64,1623.6 411.72,1662.7 377.28,1662.7" fill="#8ED3E3"/>
<polygon points="328.08,1623.6 362.52,1623.6 377.28,1662.7 347.76,1662.7" fill="#8ED3E3"/>
<polygon points="205.08,1623.6 234.6,1623.6 244.44,1662.7 214.92,1662.7" fill="url(#g46)"/>
<polygon points="91.92,1623.6 121.44,1623.6 126.36,1662.7 101.76,1662.7" fill="#88D1CC"/>
<polygon points="544.56,1623.6 569.16,1623.6 628.2,1662.7 598.68,1662.7" fill="url(#g47)"/>
<polygon points="416.64,1623.6 426.48,1623.6 347.76,1662.7 305.94,1662.7" fill="url(#g48)"/>
<polygon points="52.56,1623.6 72.24,1623.6 82.08,1662.7 57.48,1662.7" fill="#27A6AC"/>
<polygon points="72.24,1623.6 91.92,1623.6 101.76,1662.7 82.08,1662.7" fill="url(#g49)"/>
<polygon points="37.8,1623.6 52.56,1623.6 57.48,1662.7 37.8,1662.7" fill="#27A6AC"/>
<polygon points="195.24,1623.6 205.08,1623.6 305.94,1662.7 298.56,1662.7" fill="#A64A56"/>
<polygon points="414.67,1703.3 559.32,1703.3 524.88,1742.4 392.04,1742.4" fill="#33AEC9"/>
<polygon points="244.44,1703.3 298.56,1703.3 304.96,1742.4 214.92,1742.4" fill="#A64A56"/>
<polygon points="126.36,1703.3 212.46,1703.3 165.72,1742.4 116.52,1742.4" fill="#4478AE"/>
<polygon points="212.46,1703.3 244.44,1703.3 214.92,1742.4 165.72,1742.4" fill="url(#g50)"/>
<polygon points="298.56,1703.3 347.76,1703.3 333,1742.4 308.4,1742.4" fill="#A64A56"/>
<polygon points="37.8,1703.3 67.32,1703.3 72.24,1742.4 37.8,1742.4" fill="#27A6AC"/>
<polygon points="347.76,1703.3 377.28,1703.3 367.44,1742.4 333,1742.4" fill="#8ED3E3"/>
<polygon points="377.28,1703.3 411.72,1703.3 392.04,1742.4 367.44,1742.4" fill="#8ED3E3"/>
<polygon points="67.32,1703.3 101.76,1703.3 91.92,1742.4 72.24,1742.4" fill="#27A6AC"/>
<polygon points="101.76,1703.3 126.36,1703.3 116.52,1742.4 91.92,1742.4" fill="#88D1CC"/>
<polygon points="559.32,1703.3 579,1703.3 554.4,1742.4 524.88,1742.4" fill="#7C97A6"/>
<polygon points="579,1703.3 598.68,1703.3 628.2,1742.4 598.68,1742.4" fill="url(#g51)"/>
<polygon points="598.68,1703.3 628.2,1703.3 574.08,1742.4 554.4,1742.4" fill="#E8BD77"/>
<polygon points="411.72,1703.3 414.67,1703.3 308.4,1742.4 305.45,1742.4" fill="url(#g52)" stroke-width="0.75" stroke-opacity="0.95" fill-opacity="0.75"/>
</g>
<g stroke="#000" stroke-opacity="0.17" stroke-width="0.7">
<line x1="87" y1="148.4" x2="87" y2="1783"/>
<line x1="136.2" y1="148.4" x2="136.2" y2="1783"/>
<line x1="185.4" y1="148.4" x2="185.4" y2="1783"/>
<line x1="234.6" y1="148.4" x2="234.6" y2="1783"/>
<line x1="283.8" y1="148.4" x2="283.8" y2="1783"/>
<line x1="333" y1="148.4" x2="333" y2="1783"/>
<line x1="382.2" y1="148.4" x2="382.2" y2="1783"/>
<line x1="431.4" y1="148.4" x2="431.4" y2="1783"/>
<line x1="480.6" y1="148.4" x2="480.6" y2="1783"/>
<line x1="529.8" y1="148.4" x2="529.8" y2="1783"/>
<line x1="579" y1="148.4" x2="579" y2="1783"/>
<line x1="628.2" y1="148.4" x2="628.2" y2="1783"/>
</g>
<line x1="37.4" y1="140.5" x2="37.4" y2="1789.8" stroke="#333" stroke-width="1"/>
<g stroke="#fff" stroke-width="0.9">
<rect x="37.8" y="148.4" width="9.84" height="40.6" fill="#00969E"/>
<rect x="47.64" y="148.4" width="19.68" height="40.6" fill="#E06C6D"/>
<rect x="67.32" y="148.4" width="93.48" height="40.6" fill="#76C8C4"/>
<rect x="160.8" y="148.4" width="226.32" height="40.6" fill="#0A69A2"/>
<rect x="387.12" y="148.4" width="34.44" height="40.6" fill="#9B3A4E"/>
<rect x="421.56" y="148.4" width="4.92" height="40.6" fill="#9B3A4E"/>
<rect x="426.48" y="148.4" width="24.6" height="40.6" fill="#9B3A4E"/>
<rect x="451.08" y="148.4" width="19.68" height="40.6" fill="#628297"/>
<rect x="470.76" y="148.4" width="78.72" height="40.6" fill="#628297"/>
<rect x="549.48" y="148.4" width="68.88" height="40.6" fill="#00A4C2"/>
<rect x="618.36" y="148.4" width="4.92" height="40.6" fill="#E4B15E"/>
<rect x="623.28" y="148.4" width="4.92" height="40.6" fill="#B8BABC"/>
</g>
<g stroke="#fff" stroke-width="0.9">
<rect x="37.8" y="228.1" width="4.92" height="40.6" fill="#00969E"/>
<rect x="42.72" y="228.1" width="14.76" height="40.6" fill="#00969E"/>
<rect x="57.48" y="228.1" width="4.92" height="40.6" fill="#00969E"/>
<rect x="62.4" y="228.1" width="24.6" height="40.6" fill="#E06C6D"/>
<rect x="87" y="228.1" width="73.8" height="40.6" fill="#76C8C4"/>
<rect x="160.8" y="228.1" width="221.4" height="40.6" fill="#0A69A2"/>
<rect x="382.2" y="228.1" width="98.4" height="40.6" fill="#9B3A4E"/>
<rect x="480.6" y="228.1" width="4.92" height="40.6" fill="#9B3A4E"/>
<rect x="485.52" y="228.1" width="19.68" height="40.6" fill="#9B3A4E"/>
<rect x="505.2" y="228.1" width="9.84" height="40.6" fill="#628297"/>
<rect x="515.04" y="228.1" width="39.36" height="40.6" fill="#628297"/>
<rect x="554.4" y="228.1" width="9.84" height="40.6" fill="#628297"/>
<rect x="564.24" y="228.1" width="14.76" height="40.6" fill="#7ACBDE"/>
<rect x="579" y="228.1" width="9.84" height="40.6" fill="#7ACBDE"/>
<rect x="588.84" y="228.1" width="39.36" height="40.6" fill="#00A4C2"/>
</g>
<g stroke="#fff" stroke-width="0.9">
<rect x="37.8" y="307.8" width="4.92" height="40.6" fill="#00969E"/>
<rect x="42.72" y="307.8" width="9.84" height="40.6" fill="#00969E"/>
<rect x="52.56" y="307.8" width="9.84" height="40.6" fill="#00969E"/>
<rect x="62.4" y="307.8" width="29.52" height="40.6" fill="#E06C6D"/>
<rect x="91.92" y="307.8" width="44.28" height="40.6" fill="#76C8C4"/>
<rect x="136.2" y="307.8" width="49.2" height="40.6" fill="#76C8C4"/>
<rect x="185.4" y="307.8" width="196.8" height="40.6" fill="#0A69A2"/>
<rect x="382.2" y="307.8" width="63.96" height="40.6" fill="#9B3A4E"/>
<rect x="446.16" y="307.8" width="24.6" height="40.6" fill="#9B3A4E"/>
<rect x="470.76" y="307.8" width="54.12" height="40.6" fill="#628297"/>
<rect x="524.88" y="307.8" width="29.52" height="40.6" fill="#7ACBDE"/>
<rect x="554.4" y="307.8" width="73.8" height="40.6" fill="#00A4C2"/>
</g>
<g stroke="#fff" stroke-width="0.9">
<rect x="37.8" y="387.5" width="4.92" height="40.6" fill="#00969E"/>
<rect x="42.72" y="387.5" width="9.84" height="40.6" fill="#00969E"/>
<rect x="52.56" y="387.5" width="14.76" height="40.6" fill="#E06C6D"/>
<rect x="67.32" y="387.5" width="44.28" height="40.6" fill="#76C8C4"/>
<rect x="111.6" y="387.5" width="34.44" height="40.6" fill="#76C8C4"/>
<rect x="146.04" y="387.5" width="231.24" height="40.6" fill="#0A69A2"/>
<rect x="377.28" y="387.5" width="9.84" height="40.6" fill="#9B3A4E"/>
<rect x="387.12" y="387.5" width="39.36" height="40.6" fill="#9B3A4E"/>
<rect x="426.48" y="387.5" width="29.52" height="40.6" fill="#9B3A4E"/>
<rect x="456" y="387.5" width="59.04" height="40.6" fill="#628297"/>
<rect x="515.04" y="387.5" width="29.52" height="40.6" fill="#7ACBDE"/>
<rect x="544.56" y="387.5" width="83.64" height="40.6" fill="#00A4C2"/>
</g>
<g stroke="#fff" stroke-width="0.9">
<rect x="37.8" y="467.2" width="9.84" height="40.6" fill="#00969E"/>
<rect x="47.64" y="467.2" width="24.6" height="40.6" fill="#E06C6D"/>
<rect x="72.24" y="467.2" width="44.28" height="40.6" fill="#76C8C4"/>
<rect x="116.52" y="467.2" width="39.36" height="40.6" fill="#76C8C4"/>
<rect x="155.88" y="467.2" width="206.64" height="40.6" fill="#0A69A2"/>
<rect x="362.52" y="467.2" width="9.84" height="40.6" fill="#9B3A4E"/>
<rect x="372.36" y="467.2" width="83.64" height="40.6" fill="#9B3A4E"/>
<rect x="456" y="467.2" width="59.04" height="40.6" fill="#628297"/>
<rect x="515.04" y="467.2" width="19.68" height="40.6" fill="#7ACBDE"/>
<rect x="534.72" y="467.2" width="9.84" height="40.6" fill="#7ACBDE"/>
<rect x="544.56" y="467.2" width="83.64" height="40.6" fill="#00A4C2"/>
</g>
<g stroke="#fff" stroke-width="0.9">
<rect x="37.8" y="546.9" width="9.84" height="40.6" fill="#00969E"/>
<rect x="47.64" y="546.9" width="4.92" height="40.6" fill="#E06C6D"/>
<rect x="52.56" y="546.9" width="4.92" height="40.6" fill="#E06C6D"/>
<rect x="57.48" y="546.9" width="14.76" height="40.6" fill="#E06C6D"/>
<rect x="72.24" y="546.9" width="39.36" height="40.6" fill="#76C8C4"/>
<rect x="111.6" y="546.9" width="221.4" height="40.6" fill="#0A69A2"/>
<rect x="333" y="546.9" width="49.2" height="40.6" fill="#0A69A2"/>
<rect x="382.2" y="546.9" width="9.84" height="40.6" fill="#9B3A4E"/>
<rect x="392.04" y="546.9" width="24.6" height="40.6" fill="#9B3A4E"/>
<rect x="416.64" y="546.9" width="54.12" height="40.6" fill="#628297"/>
<rect x="470.76" y="546.9" width="19.68" height="40.6" fill="#7ACBDE"/>
<rect x="490.44" y="546.9" width="9.84" height="40.6" fill="#7ACBDE"/>
<rect x="500.28" y="546.9" width="127.92" height="40.6" fill="#00A4C2"/>
</g>
<g stroke="#fff" stroke-width="0.9">
<rect x="37.8" y="626.6" width="9.84" height="40.6" fill="#00969E"/>
<rect x="47.64" y="626.6" width="9.84" height="40.6" fill="#E06C6D"/>
<rect x="57.48" y="626.6" width="4.92" height="40.6" fill="#E06C6D"/>
<rect x="62.4" y="626.6" width="14.76" height="40.6" fill="#E06C6D"/>
<rect x="77.16" y="626.6" width="275.52" height="40.6" fill="#0A69A2"/>
<rect x="352.68" y="626.6" width="9.84" height="40.6" fill="#9B3A4E"/>
<rect x="362.52" y="626.6" width="19.68" height="40.6" fill="#9B3A4E"/>
<rect x="382.2" y="626.6" width="19.68" height="40.6" fill="#9B3A4E"/>
<rect x="401.88" y="626.6" width="9.84" height="40.6" fill="#9B3A4E"/>
<rect x="411.72" y="626.6" width="59.04" height="40.6" fill="#628297"/>
<rect x="470.76" y="626.6" width="19.68" height="40.6" fill="#7ACBDE"/>
<rect x="490.44" y="626.6" width="9.84" height="40.6" fill="#7ACBDE"/>
<rect x="500.28" y="626.6" width="127.92" height="40.6" fill="#00A4C2"/>
</g>
<g stroke="#fff" stroke-width="0.9">
<rect x="37.8" y="706.3" width="4.92" height="40.6" fill="#00969E"/>
<rect x="42.72" y="706.3" width="4.92" height="40.6" fill="#E06C6D"/>
<rect x="47.64" y="706.3" width="19.68" height="40.6" fill="#E06C6D"/>
<rect x="67.32" y="706.3" width="14.76" height="40.6" fill="#76C8C4"/>
<rect x="82.08" y="706.3" width="250.92" height="40.6" fill="#0A69A2"/>
<rect x="333" y="706.3" width="9.84" height="40.6" fill="#9B3A4E"/>
<rect x="342.84" y="706.3" width="19.68" height="40.6" fill="#9B3A4E"/>
<rect x="362.52" y="706.3" width="49.2" height="40.6" fill="#628297"/>
<rect x="411.72" y="706.3" width="24.6" height="40.6" fill="#7ACBDE"/>
<rect x="436.32" y="706.3" width="191.88" height="40.6" fill="#00A4C2"/>
</g>
<g stroke="#fff" stroke-width="0.9">
<rect x="37.8" y="786" width="4.92" height="40.6" fill="#00969E"/>
<rect x="42.72" y="786" width="24.6" height="40.6" fill="#E06C6D"/>
<rect x="67.32" y="786" width="9.84" height="40.6" fill="#B8BABC"/>
<rect x="77.16" y="786" width="4.92" height="40.6" fill="#76C8C4"/>
<rect x="82.08" y="786" width="157.44" height="40.6" fill="#0A69A2"/>
<rect x="239.52" y="786" width="73.8" height="40.6" fill="#9B3A4E"/>
<rect x="313.32" y="786" width="4.92" height="40.6" fill="#9B3A4E"/>
<rect x="318.24" y="786" width="19.68" height="40.6" fill="#7ACBDE"/>
<rect x="337.92" y="786" width="4.92" height="40.6" fill="#7ACBDE"/>
<rect x="342.84" y="786" width="211.56" height="40.6" fill="#00A4C2"/>
<rect x="554.4" y="786" width="9.84" height="40.6" fill="#00A4C2"/>
<rect x="564.24" y="786" width="59.04" height="40.6" fill="#628297"/>
<rect x="623.28" y="786" width="4.92" height="40.6" fill="#B8BABC"/>
</g>
<g stroke="#fff" stroke-width="0.9">
<rect x="37.8" y="865.7" width="19.68" height="40.6" fill="#E06C6D"/>
<rect x="57.48" y="865.7" width="4.92" height="40.6" fill="#76C8C4"/>
<rect x="62.4" y="865.7" width="9.84" height="40.6" fill="#76C8C4"/>
<rect x="72.24" y="865.7" width="231.24" height="40.6" fill="#0A69A2"/>
<rect x="303.48" y="865.7" width="9.84" height="40.6" fill="#9B3A4E"/>
<rect x="313.32" y="865.7" width="14.76" height="40.6" fill="#628297"/>
<rect x="328.08" y="865.7" width="19.68" height="40.6" fill="#7ACBDE"/>
<rect x="347.76" y="865.7" width="236.16" height="40.6" fill="#00A4C2"/>
<rect x="583.92" y="865.7" width="29.52" height="40.6" fill="#628297"/>
<rect x="613.44" y="865.7" width="14.76" height="40.6" fill="#E4B15E"/>
</g>
<g stroke="#fff" stroke-width="0.9">
<rect x="37.8" y="945.4" width="9.84" height="40.6" fill="#00969E"/>
<rect x="47.64" y="945.4" width="19.68" height="40.6" fill="#E06C6D"/>
<rect x="67.32" y="945.4" width="14.76" height="40.6" fill="#76C8C4"/>
<rect x="82.08" y="945.4" width="14.76" height="40.6" fill="#76C8C4"/>
<rect x="96.84" y="945.4" width="201.72" height="40.6" fill="#0A69A2"/>
<rect x="298.56" y="945.4" width="14.76" height="40.6" fill="#9B3A4E"/>
<rect x="313.32" y="945.4" width="4.92" height="40.6" fill="#9B3A4E"/>
<rect x="318.24" y="945.4" width="4.92" height="40.6" fill="#628297"/>
<rect x="323.16" y="945.4" width="9.84" height="40.6" fill="#628297"/>
<rect x="333" y="945.4" width="9.84" height="40.6" fill="#7ACBDE"/>
<rect x="342.84" y="945.4" width="19.68" height="40.6" fill="#7ACBDE"/>
<rect x="362.52" y="945.4" width="216.48" height="40.6" fill="#00A4C2"/>
<rect x="579" y="945.4" width="19.68" height="40.6" fill="#628297"/>
<rect x="598.68" y="945.4" width="4.92" height="40.6" fill="#E4B15E"/>
<rect x="603.6" y="945.4" width="24.6" height="40.6" fill="#E4B15E"/>
</g>
<g stroke="#fff" stroke-width="0.9">
<rect x="37.8" y="1025.1" width="4.92" height="40.6" fill="#00969E"/>
<rect x="42.72" y="1025.1" width="4.92" height="40.6" fill="#00969E"/>
<rect x="47.64" y="1025.1" width="19.68" height="40.6" fill="#E06C6D"/>
<rect x="67.32" y="1025.1" width="24.6" height="40.6" fill="#76C8C4"/>
<rect x="91.92" y="1025.1" width="9.84" height="40.6" fill="#76C8C4"/>
<rect x="101.76" y="1025.1" width="14.76" height="40.6" fill="#76C8C4"/>
<rect x="116.52" y="1025.1" width="191.88" height="40.6" fill="#0A69A2"/>
<rect x="308.4" y="1025.1" width="9.84" height="40.6" fill="#7ACBDE"/>
<rect x="318.24" y="1025.1" width="24.6" height="40.6" fill="#7ACBDE"/>
<rect x="342.84" y="1025.1" width="29.52" height="40.6" fill="#7ACBDE"/>
<rect x="372.36" y="1025.1" width="196.8" height="40.6" fill="#00A4C2"/>
<rect x="569.16" y="1025.1" width="24.6" height="40.6" fill="#628297"/>
<rect x="593.76" y="1025.1" width="14.76" height="40.6" fill="#E4B15E"/>
<rect x="608.52" y="1025.1" width="9.84" height="40.6" fill="#E4B15E"/>
<rect x="618.36" y="1025.1" width="9.84" height="40.6" fill="#E4B15E"/>
</g>
<g stroke="#fff" stroke-width="0.9">
<rect x="37.8" y="1104.8" width="9.84" height="40.6" fill="#00969E"/>
<rect x="47.64" y="1104.8" width="14.76" height="40.6" fill="#E06C6D"/>
<rect x="62.4" y="1104.8" width="59.04" height="40.6" fill="#76C8C4"/>
<rect x="121.44" y="1104.8" width="216.48" height="40.6" fill="#0A69A2"/>
<rect x="337.92" y="1104.8" width="19.68" height="40.6" fill="#7ACBDE"/>
<rect x="357.6" y="1104.8" width="29.52" height="40.6" fill="#7ACBDE"/>
<rect x="387.12" y="1104.8" width="157.44" height="40.6" fill="#00A4C2"/>
<rect x="544.56" y="1104.8" width="29.52" height="40.6" fill="#628297"/>
<rect x="574.08" y="1104.8" width="39.36" height="40.6" fill="#E4B15E"/>
<rect x="613.44" y="1104.8" width="14.76" height="40.6" fill="#E4B15E"/>
</g>
<g stroke="#fff" stroke-width="0.9">
<rect x="37.8" y="1184.5" width="19.68" height="40.6" fill="#00969E"/>
<rect x="57.48" y="1184.5" width="24.6" height="40.6" fill="#E06C6D"/>
<rect x="82.08" y="1184.5" width="44.28" height="40.6" fill="#76C8C4"/>
<rect x="126.36" y="1184.5" width="167.28" height="40.6" fill="#0A69A2"/>
<rect x="293.64" y="1184.5" width="19.68" height="40.6" fill="#9B3A4E"/>
<rect x="313.32" y="1184.5" width="34.44" height="40.6" fill="#9B3A4E"/>
<rect x="347.76" y="1184.5" width="19.68" height="40.6" fill="#7ACBDE"/>
<rect x="367.44" y="1184.5" width="49.2" height="40.6" fill="#7ACBDE"/>
<rect x="416.64" y="1184.5" width="157.44" height="40.6" fill="#00A4C2"/>
<rect x="574.08" y="1184.5" width="44.28" height="40.6" fill="#628297"/>
<rect x="618.36" y="1184.5" width="9.84" height="40.6" fill="#E4B15E"/>
</g>
<g stroke="#fff" stroke-width="0.9">
<rect x="37.8" y="1264.2" width="9.84" height="40.6" fill="#00969E"/>
<rect x="47.64" y="1264.2" width="24.6" height="40.6" fill="#00969E"/>
<rect x="72.24" y="1264.2" width="14.76" height="40.6" fill="#E06C6D"/>
<rect x="87" y="1264.2" width="49.2" height="40.6" fill="#76C8C4"/>
<rect x="136.2" y="1264.2" width="9.84" height="40.6" fill="#76C8C4"/>
<rect x="146.04" y="1264.2" width="127.92" height="40.6" fill="#0A69A2"/>
<rect x="273.96" y="1264.2" width="29.52" height="40.6" fill="#9B3A4E"/>
<rect x="303.48" y="1264.2" width="29.52" height="40.6" fill="#9B3A4E"/>
<rect x="333" y="1264.2" width="29.52" height="40.6" fill="#9B3A4E"/>
<rect x="362.52" y="1264.2" width="24.6" height="40.6" fill="#7ACBDE"/>
<rect x="387.12" y="1264.2" width="83.64" height="40.6" fill="#7ACBDE"/>
<rect x="470.76" y="1264.2" width="93.48" height="40.6" fill="#00A4C2"/>
<rect x="564.24" y="1264.2" width="24.6" height="40.6" fill="#628297"/>
<rect x="588.84" y="1264.2" width="19.68" height="40.6" fill="#E4B15E"/>
<rect x="608.52" y="1264.2" width="19.68" height="40.6" fill="#E4B15E"/>
</g>
<g stroke="#fff" stroke-width="0.9">
<rect x="37.8" y="1343.9" width="14.76" height="40.6" fill="#00969E"/>
<rect x="52.56" y="1343.9" width="9.84" height="40.6" fill="#00969E"/>
<rect x="62.4" y="1343.9" width="14.76" height="40.6" fill="#E06C6D"/>
<rect x="77.16" y="1343.9" width="29.52" height="40.6" fill="#76C8C4"/>
<rect x="106.68" y="1343.9" width="14.76" height="40.6" fill="#76C8C4"/>
<rect x="121.44" y="1343.9" width="93.48" height="40.6" fill="#0A69A2"/>
<rect x="214.92" y="1343.9" width="73.8" height="40.6" fill="#9B3A4E"/>
<rect x="288.72" y="1343.9" width="9.84" height="40.6" fill="#9B3A4E"/>
<rect x="298.56" y="1343.9" width="24.6" height="40.6" fill="#7ACBDE"/>
<rect x="323.16" y="1343.9" width="54.12" height="40.6" fill="#7ACBDE"/>
<rect x="377.28" y="1343.9" width="186.96" height="40.6" fill="#00A4C2"/>
<rect x="564.24" y="1343.9" width="29.52" height="40.6" fill="#628297"/>
<rect x="593.76" y="1343.9" width="34.44" height="40.6" fill="#E4B15E"/>
</g>
<g stroke="#fff" stroke-width="0.9">
<rect x="37.8" y="1423.6" width="14.76" height="40.6" fill="#00969E"/>
<rect x="52.56" y="1423.6" width="19.68" height="40.6" fill="#00969E"/>
<rect x="72.24" y="1423.6" width="14.76" height="40.6" fill="#E06C6D"/>
<rect x="87" y="1423.6" width="24.6" height="40.6" fill="#76C8C4"/>
<rect x="111.6" y="1423.6" width="93.48" height="40.6" fill="#0A69A2"/>
<rect x="205.08" y="1423.6" width="34.44" height="40.6" fill="#9B3A4E"/>
<rect x="239.52" y="1423.6" width="142.68" height="40.6" fill="#9B3A4E"/>
<rect x="382.2" y="1423.6" width="29.52" height="40.6" fill="#7ACBDE"/>
<rect x="411.72" y="1423.6" width="59.04" height="40.6" fill="#7ACBDE"/>
<rect x="470.76" y="1423.6" width="59.04" height="40.6" fill="#00A4C2"/>
<rect x="529.8" y="1423.6" width="44.28" height="40.6" fill="#628297"/>
<rect x="574.08" y="1423.6" width="54.12" height="40.6" fill="#E4B15E"/>
</g>
<g stroke="#fff" stroke-width="0.9">
<rect x="37.8" y="1503.3" width="14.76" height="40.6" fill="#00969E"/>
<rect x="52.56" y="1503.3" width="19.68" height="40.6" fill="#00969E"/>
<rect x="72.24" y="1503.3" width="19.68" height="40.6" fill="#E06C6D"/>
<rect x="91.92" y="1503.3" width="14.76" height="40.6" fill="#76C8C4"/>
<rect x="106.68" y="1503.3" width="63.96" height="40.6" fill="#0A69A2"/>
<rect x="170.64" y="1503.3" width="137.76" height="40.6" fill="#9B3A4E"/>
<rect x="308.4" y="1503.3" width="24.6" height="40.6" fill="#7ACBDE"/>
<rect x="333" y="1503.3" width="54.12" height="40.6" fill="#7ACBDE"/>
<rect x="387.12" y="1503.3" width="132.84" height="40.6" fill="#00A4C2"/>
<rect x="519.96" y="1503.3" width="14.76" height="40.6" fill="#628297"/>
<rect x="534.72" y="1503.3" width="19.68" height="40.6" fill="#E4B15E"/>
<rect x="554.4" y="1503.3" width="73.8" height="40.6" fill="#E4B15E"/>
</g>
<g stroke="#fff" stroke-width="0.9">
<rect x="37.8" y="1583" width="14.76" height="40.6" fill="#00969E"/>
<rect x="52.56" y="1583" width="19.68" height="40.6" fill="#00969E"/>
<rect x="72.24" y="1583" width="19.68" height="40.6" fill="#E06C6D"/>
<rect x="91.92" y="1583" width="29.52" height="40.6" fill="#76C8C4"/>
<rect x="121.44" y="1583" width="73.8" height="40.6" fill="#0A69A2"/>
<rect x="195.24" y="1583" width="9.84" height="40.6" fill="#9B3A4E"/>
<rect x="205.08" y="1583" width="29.52" height="40.6" fill="#9B3A4E"/>
<rect x="234.6" y="1583" width="93.48" height="40.6" fill="#9B3A4E"/>
<rect x="328.08" y="1583" width="34.44" height="40.6" fill="#7ACBDE"/>
<rect x="362.52" y="1583" width="54.12" height="40.6" fill="#7ACBDE"/>
<rect x="416.64" y="1583" width="152.52" height="40.6" fill="#00A4C2"/>
<rect x="569.16" y="1583" width="59.04" height="40.6" fill="#628297"/>
</g>
<g stroke="#fff" stroke-width="0.9">
<rect x="37.8" y="1662.7" width="63.96" height="40.6" fill="#00969E"/>
<rect x="101.76" y="1662.7" width="24.6" height="40.6" fill="#76C8C4"/>
<rect x="126.36" y="1662.7" width="118.08" height="40.6" fill="#0A69A2"/>
<rect x="244.44" y="1662.7" width="54.12" height="40.6" fill="#9B3A4E"/>
<rect x="298.56" y="1662.7" width="49.2" height="40.6" fill="#9B3A4E"/>
<rect x="347.76" y="1662.7" width="29.52" height="40.6" fill="#7ACBDE"/>
<rect x="377.28" y="1662.7" width="34.44" height="40.6" fill="#7ACBDE"/>
<rect x="411.72" y="1662.7" width="147.6" height="40.6" fill="#00A4C2"/>
<rect x="559.32" y="1662.7" width="39.36" height="40.6" fill="#628297"/>
<rect x="598.68" y="1662.7" width="29.52" height="40.6" fill="#E4B15E"/>
</g>
<g stroke="#fff" stroke-width="0.9">
<rect x="37.8" y="1742.4" width="34.44" height="40.6" fill="#00969E"/>
<rect x="72.24" y="1742.4" width="19.68" height="40.6" fill="#00969E"/>
<rect x="91.92" y="1742.4" width="24.6" height="40.6" fill="#76C8C4"/>
<rect x="116.52" y="1742.4" width="49.2" height="40.6" fill="#0A69A2"/>
<rect x="165.72" y="1742.4" width="142.68" height="40.6" fill="#9B3A4E"/>
<rect x="308.4" y="1742.4" width="24.6" height="40.6" fill="#9B3A4E"/>
<rect x="333" y="1742.4" width="34.44" height="40.6" fill="#7ACBDE"/>
<rect x="367.44" y="1742.4" width="24.6" height="40.6" fill="#7ACBDE"/>
<rect x="392.04" y="1742.4" width="132.84" height="40.6" fill="#00A4C2"/>
<rect x="524.88" y="1742.4" width="29.52" height="40.6" fill="#628297"/>
<rect x="554.4" y="1742.4" width="19.68" height="40.6" fill="#E4B15E"/>
<rect x="574.08" y="1742.4" width="24.6" height="40.6" fill="#E4B15E"/>
<rect x="598.68" y="1742.4" width="29.52" height="40.6" fill="#E4B15E"/>
</g>
<text transform="translate(53.48,168.7) rotate(90) scale(0.87,1)" font-size="11.6" fill="#fff" text-anchor="middle" stroke="#fff" stroke-width="0.3">MAKI</text>
<text transform="translate(114.06,173.3) scale(0.97,1)" font-size="11.6" fill="#fff" text-anchor="middle" stroke="#fff" stroke-width="0.3">MAPAM</text>
<text transform="translate(273.96,167.6) scale(0.97,1)" font-size="11.6" fill="#fff" text-anchor="middle" stroke="#fff" stroke-width="0.3">MAPAI</text>
<text transform="translate(273.96,179) scale(0.95,1)" font-size="11" fill="#fff" text-anchor="middle" font-style="italic" stroke="#fff" stroke-width="0.15">(Prime Minister: Ben-Gurion)</text>
<text transform="translate(406.64,168.7) rotate(90) scale(0.9,1)" font-size="11.6" fill="#fff" text-anchor="middle" stroke="#fff" stroke-width="0.3">General</text>
<text transform="translate(394.04,168.7) rotate(90) scale(0.9,1)" font-size="11.6" fill="#fff" text-anchor="middle" stroke="#fff" stroke-width="0.3">Zionists</text>
<text transform="translate(441.08,168.7) rotate(90) scale(0.9,1)" font-size="11.6" fill="#fff" text-anchor="middle" stroke="#fff" stroke-width="0.3">Prog.</text>
<text transform="translate(428.48,168.7) rotate(90) scale(0.9,1)" font-size="11.6" fill="#fff" text-anchor="middle" stroke="#fff" stroke-width="0.3">Party</text>
<text transform="translate(456.92,168.7) rotate(90) scale(0.87,1)" font-size="11.6" fill="#fff" text-anchor="middle" stroke="#fff" stroke-width="0.3">S.&amp;O.C.</text>
<text transform="translate(510.12,161.9) scale(1.03,1)" font-size="11.6" fill="#fff" text-anchor="middle" stroke="#fff" stroke-width="0.3">United</text>
<text transform="translate(510.12,173.3) scale(1.03,1)" font-size="11.6" fill="#fff" text-anchor="middle" stroke="#fff" stroke-width="0.3">Religious</text>
<text transform="translate(510.12,184.7) scale(1.03,1)" font-size="11.6" fill="#fff" text-anchor="middle" stroke="#fff" stroke-width="0.3">Front</text>
<text transform="translate(583.92,167.6) scale(1.03,1)" font-size="11.6" fill="#fff" text-anchor="middle" stroke="#fff" stroke-width="0.3">Herut</text>
<text transform="translate(583.92,179) scale(1.03,1)" font-size="11.6" fill="#fff" text-anchor="middle" stroke="#fff" stroke-width="0.3">Movement</text>
<text transform="translate(123.9,253) scale(0.97,1)" font-size="11.6" fill="#fff" text-anchor="middle" stroke="#fff" stroke-width="0.3">MAPAM</text>
<text transform="translate(271.5,247.3) scale(0.97,1)" font-size="11.6" fill="#fff" text-anchor="middle" stroke="#fff" stroke-width="0.3">MAPAI</text>
<text transform="translate(271.5,258.7) scale(0.95,1)" font-size="11" fill="#fff" text-anchor="middle" font-style="italic" stroke="#fff" stroke-width="0.15">(PM: Ben-Gurion/Sharett)</text>
<text transform="translate(431.4,247.3) scale(1.03,1)" font-size="11.6" fill="#fff" text-anchor="middle" stroke="#fff" stroke-width="0.3">General</text>
<text transform="translate(431.4,258.7) scale(1.03,1)" font-size="11.6" fill="#fff" text-anchor="middle" stroke="#fff" stroke-width="0.3">Zionists</text>
<text transform="translate(608.52,247.3) scale(1.03,1)" font-size="11.6" fill="#fff" text-anchor="middle" stroke="#fff" stroke-width="0.3">Herut</text>
<text transform="translate(608.52,258.7) scale(1.03,1)" font-size="11.6" fill="#fff" text-anchor="middle" stroke="#fff" stroke-width="0.3">Mov.</text>
<text transform="translate(114.06,332.7) scale(0.97,1)" font-size="11.6" fill="#fff" text-anchor="middle" stroke="#fff" stroke-width="0.3">MAPAM</text>
<text transform="translate(160.8,327) scale(1.03,1)" font-size="11.6" fill="#fff" text-anchor="middle" stroke="#fff" stroke-width="0.3">Ahdut</text>
<text transform="translate(160.8,338.4) scale(1.03,1)" font-size="11.6" fill="#fff" text-anchor="middle" stroke="#fff" stroke-width="0.3">Ha’avoda</text>
<text transform="translate(283.8,327) scale(0.97,1)" font-size="11.6" fill="#fff" text-anchor="middle" stroke="#fff" stroke-width="0.3">MAPAI</text>
<text transform="translate(283.8,338.4) scale(0.95,1)" font-size="11" fill="#fff" text-anchor="middle" font-style="italic" stroke="#fff" stroke-width="0.15">(PM: Ben-Gurion)</text>
<text transform="translate(414.18,327) scale(1.03,1)" font-size="11.6" fill="#fff" text-anchor="middle" stroke="#fff" stroke-width="0.3">General</text>
<text transform="translate(414.18,338.4) scale(1.03,1)" font-size="11.6" fill="#fff" text-anchor="middle" stroke="#fff" stroke-width="0.3">Zionists</text>
<text transform="translate(497.82,321.3) scale(1.03,1)" font-size="11.6" fill="#fff" text-anchor="middle" stroke="#fff" stroke-width="0.3">National</text>
<text transform="translate(497.82,332.7) scale(1.03,1)" font-size="11.6" fill="#fff" text-anchor="middle" stroke="#fff" stroke-width="0.3">Religious</text>
<text transform="translate(497.82,344.1) scale(1.03,1)" font-size="11.6" fill="#fff" text-anchor="middle" stroke="#fff" stroke-width="0.3">Party</text>
<text transform="translate(539.64,332.7) scale(0.97,1)" font-size="11.6" fill="#fff" text-anchor="middle" stroke="#fff" stroke-width="0.3">UTF</text>
<text transform="translate(591.3,327) scale(1.03,1)" font-size="11.6" fill="#fff" text-anchor="middle" stroke="#fff" stroke-width="0.3">Herut</text>
<text transform="translate(591.3,338.4) scale(1.03,1)" font-size="11.6" fill="#fff" text-anchor="middle" stroke="#fff" stroke-width="0.3">Movement</text>
<text transform="translate(89.46,412.4) scale(0.97,1)" font-size="11.6" fill="#fff" text-anchor="middle" stroke="#fff" stroke-width="0.3">MAPAM</text>
<text transform="translate(261.66,406.7) scale(0.97,1)" font-size="11.6" fill="#fff" text-anchor="middle" stroke="#fff" stroke-width="0.3">MAPAI</text>
<text transform="translate(261.66,418.1) scale(0.95,1)" font-size="11" fill="#fff" text-anchor="middle" font-style="italic" stroke="#fff" stroke-width="0.15">(PM: Ben-Gurion)</text>
<text transform="translate(406.8,406.7) scale(1.03,1)" font-size="11.6" fill="#fff" text-anchor="middle" stroke="#fff" stroke-width="0.3">General</text>
<text transform="translate(406.8,418.1) scale(1.03,1)" font-size="11.6" fill="#fff" text-anchor="middle" stroke="#fff" stroke-width="0.3">Zionists</text>
<text transform="translate(485.52,401) scale(1.03,1)" font-size="11.6" fill="#fff" text-anchor="middle" stroke="#fff" stroke-width="0.3">National</text>
<text transform="translate(485.52,412.4) scale(1.03,1)" font-size="11.6" fill="#fff" text-anchor="middle" stroke="#fff" stroke-width="0.3">Religious</text>
<text transform="translate(485.52,423.8) scale(1.03,1)" font-size="11.6" fill="#fff" text-anchor="middle" stroke="#fff" stroke-width="0.3">Party</text>
<text transform="translate(529.8,412.4) scale(0.97,1)" font-size="11.6" fill="#fff" text-anchor="middle" stroke="#fff" stroke-width="0.3">UTF</text>
<text transform="translate(586.38,406.7) scale(1.03,1)" font-size="11.6" fill="#fff" text-anchor="middle" stroke="#fff" stroke-width="0.3">Herut</text>
<text transform="translate(586.38,418.1) scale(1.03,1)" font-size="11.6" fill="#fff" text-anchor="middle" stroke="#fff" stroke-width="0.3">Movement</text>
<text transform="translate(94.38,492.1) scale(0.97,1)" font-size="11.6" fill="#fff" text-anchor="middle" stroke="#fff" stroke-width="0.3">MAPAM</text>
<text transform="translate(259.2,486.4) scale(0.97,1)" font-size="11.6" fill="#fff" text-anchor="middle" stroke="#fff" stroke-width="0.3">MAPAI</text>
<text transform="translate(259.2,497.8) scale(0.95,1)" font-size="11" fill="#fff" text-anchor="middle" font-style="italic" stroke="#fff" stroke-width="0.15">(PM: Ben-Gurion/Eshkol)</text>
<text transform="translate(414.18,486.4) scale(1.03,1)" font-size="11.6" fill="#fff" text-anchor="middle" stroke="#fff" stroke-width="0.3">Liberal</text>
<text transform="translate(414.18,497.8) scale(1.03,1)" font-size="11.6" fill="#fff" text-anchor="middle" stroke="#fff" stroke-width="0.3">Party</text>
<text transform="translate(485.52,480.7) scale(1.03,1)" font-size="11.6" fill="#fff" text-anchor="middle" stroke="#fff" stroke-width="0.3">National</text>
<text transform="translate(485.52,492.1) scale(1.03,1)" font-size="11.6" fill="#fff" text-anchor="middle" stroke="#fff" stroke-width="0.3">Religious</text>
<text transform="translate(485.52,503.5) scale(1.03,1)" font-size="11.6" fill="#fff" text-anchor="middle" stroke="#fff" stroke-width="0.3">Party</text>
<text transform="translate(586.38,486.4) scale(1.03,1)" font-size="11.6" fill="#fff" text-anchor="middle" stroke="#fff" stroke-width="0.3">Herut</text>
<text transform="translate(586.38,497.8) scale(1.03,1)" font-size="11.6" fill="#fff" text-anchor="middle" stroke="#fff" stroke-width="0.3">Movement</text>
<text transform="translate(91.92,571.8) scale(0.97,1)" font-size="11.6" fill="#fff" text-anchor="middle" stroke="#fff" stroke-width="0.3">MAPAM</text>
<text transform="translate(222.3,566.1) scale(1.03,1)" font-size="11.6" fill="#fff" text-anchor="middle" stroke="#fff" stroke-width="0.3">Alignment</text>
<text transform="translate(222.3,577.5) scale(0.95,1)" font-size="11" fill="#fff" text-anchor="middle" font-style="italic" stroke="#fff" stroke-width="0.15">(PM: Eshkol/Meir)</text>
<text transform="translate(357.6,571.8) scale(1.03,1)" font-size="11.6" fill="#fff" text-anchor="middle" stroke="#fff" stroke-width="0.3">Rafi</text>
<text transform="translate(443.7,560.4) scale(1.03,1)" font-size="11.6" fill="#fff" text-anchor="middle" stroke="#fff" stroke-width="0.3">National</text>
<text transform="translate(443.7,571.8) scale(1.03,1)" font-size="11.6" fill="#fff" text-anchor="middle" stroke="#fff" stroke-width="0.3">Religious</text>
<text transform="translate(443.7,583.2) scale(1.03,1)" font-size="11.6" fill="#fff" text-anchor="middle" stroke="#fff" stroke-width="0.3">Party</text>
<text transform="translate(564.24,571.8) scale(1.03,1)" font-size="11.6" fill="#fff" text-anchor="middle" stroke="#fff" stroke-width="0.3">Gahal</text>
<text transform="translate(214.92,645.8) scale(1.03,1)" font-size="11.6" fill="#fff" text-anchor="middle" stroke="#fff" stroke-width="0.3">Alignment</text>
<text transform="translate(214.92,657.2) scale(0.95,1)" font-size="11" fill="#fff" text-anchor="middle" font-style="italic" stroke="#fff" stroke-width="0.15">(PM: Meir)</text>
<text transform="translate(441.24,640.1) scale(1.03,1)" font-size="11.6" fill="#fff" text-anchor="middle" stroke="#fff" stroke-width="0.3">National</text>
<text transform="translate(441.24,651.5) scale(1.03,1)" font-size="11.6" fill="#fff" text-anchor="middle" stroke="#fff" stroke-width="0.3">Religious</text>
<text transform="translate(441.24,662.9) scale(1.03,1)" font-size="11.6" fill="#fff" text-anchor="middle" stroke="#fff" stroke-width="0.3">Party</text>
<text transform="translate(564.24,651.5) scale(1.03,1)" font-size="11.6" fill="#fff" text-anchor="middle" stroke="#fff" stroke-width="0.3">Gahal</text>
<text transform="translate(207.54,725.5) scale(1.03,1)" font-size="11.6" fill="#fff" text-anchor="middle" stroke="#fff" stroke-width="0.3">Alignment</text>
<text transform="translate(207.54,736.9) scale(0.95,1)" font-size="11" fill="#fff" text-anchor="middle" font-style="italic" stroke="#fff" stroke-width="0.15">(PM: Meir/Rabin)</text>
<text transform="translate(387.12,719.8) scale(1.03,1)" font-size="11.6" fill="#fff" text-anchor="middle" stroke="#fff" stroke-width="0.3">National</text>
<text transform="translate(387.12,731.2) scale(1.03,1)" font-size="11.6" fill="#fff" text-anchor="middle" stroke="#fff" stroke-width="0.3">Religious</text>
<text transform="translate(387.12,742.6) scale(1.03,1)" font-size="11.6" fill="#fff" text-anchor="middle" stroke="#fff" stroke-width="0.3">Party</text>
<text transform="translate(424.02,731.2) scale(0.97,1)" font-size="11.6" fill="#fff" text-anchor="middle" stroke="#fff" stroke-width="0.3">UTF</text>
<text transform="translate(532.26,731.2) scale(1.03,1)" font-size="11.6" fill="#fff" text-anchor="middle" stroke="#fff" stroke-width="0.3">Likud</text>
<text transform="translate(160.8,810.9) scale(1.03,1)" font-size="11.6" fill="#fff" text-anchor="middle" stroke="#fff" stroke-width="0.3">Alignment</text>
<text transform="translate(276.42,799.5) scale(1.03,1)" font-size="11.6" fill="#fff" text-anchor="middle" stroke="#fff" stroke-width="0.3">Democratic</text>
<text transform="translate(276.42,810.9) scale(1.03,1)" font-size="11.6" fill="#fff" text-anchor="middle" stroke="#fff" stroke-width="0.3">Movement</text>
<text transform="translate(276.42,822.3) scale(1.03,1)" font-size="11.6" fill="#fff" text-anchor="middle" stroke="#fff" stroke-width="0.3">for Change</text>
<text transform="translate(448.62,805.2) scale(1.03,1)" font-size="11.6" fill="#fff" text-anchor="middle" stroke="#fff" stroke-width="0.3">Likud</text>
<text transform="translate(448.62,816.6) scale(0.95,1)" font-size="11" fill="#fff" text-anchor="middle" font-style="italic" stroke="#fff" stroke-width="0.15">(PM: Begin)</text>
<text transform="translate(593.76,799.5) scale(1.03,1)" font-size="11.6" fill="#fff" text-anchor="middle" stroke="#fff" stroke-width="0.3">National</text>
<text transform="translate(593.76,810.9) scale(1.03,1)" font-size="11.6" fill="#fff" text-anchor="middle" stroke="#fff" stroke-width="0.3">Religious</text>
<text transform="translate(593.76,822.3) scale(1.03,1)" font-size="11.6" fill="#fff" text-anchor="middle" stroke="#fff" stroke-width="0.3">Party</text>
<text transform="translate(187.86,890.6) scale(1.03,1)" font-size="11.6" fill="#fff" text-anchor="middle" stroke="#fff" stroke-width="0.3">Alignment</text>
<text transform="translate(465.84,884.9) scale(1.03,1)" font-size="11.6" fill="#fff" text-anchor="middle" stroke="#fff" stroke-width="0.3">Likud</text>
<text transform="translate(465.84,896.3) scale(0.95,1)" font-size="11" fill="#fff" text-anchor="middle" font-style="italic" stroke="#fff" stroke-width="0.15">(PM: Begin/Shamir)</text>
<text transform="translate(598.68,890.6) scale(0.97,1)" font-size="11.6" fill="#fff" text-anchor="middle" stroke="#fff" stroke-width="0.3">NRP</text>
<text transform="translate(53.48,965.7) rotate(90) scale(0.9,1)" font-size="11.6" fill="#fff" text-anchor="middle" stroke="#fff" stroke-width="0.3">Hadash</text>
<text transform="translate(70.7,965.7) rotate(90) scale(0.87,1)" font-size="11.6" fill="#fff" text-anchor="middle" stroke="#fff" stroke-width="0.3">CRM</text>
<text transform="translate(85.46,965.7) rotate(90) scale(0.9,1)" font-size="11.6" fill="#fff" text-anchor="middle" stroke="#fff" stroke-width="0.3">Shinui</text>
<text transform="translate(197.7,970.3) scale(1.03,1)" font-size="11.6" fill="#fff" text-anchor="middle" stroke="#fff" stroke-width="0.3">Alignment</text>
<text transform="translate(301.94,965.7) rotate(90) scale(0.9,1)" font-size="11.6" fill="#fff" text-anchor="middle" stroke="#fff" stroke-width="0.3">Yachad</text>
<text transform="translate(348.68,965.7) rotate(90) scale(0.9,1)" font-size="11.6" fill="#fff" text-anchor="middle" stroke="#fff" stroke-width="0.3">Shas</text>
<text transform="translate(470.76,964.6) scale(1.03,1)" font-size="11.6" fill="#fff" text-anchor="middle" stroke="#fff" stroke-width="0.3">Likud</text>
<text transform="translate(470.76,976) scale(0.95,1)" font-size="11" fill="#fff" text-anchor="middle" font-style="italic" stroke="#fff" stroke-width="0.15">(PM: Shamir)</text>
<text transform="translate(618.2,965.7) rotate(90) scale(0.9,1)" font-size="11.6" fill="#fff" text-anchor="middle" stroke="#fff" stroke-width="0.3">Tehiya-</text>
<text transform="translate(605.6,965.7) rotate(90) scale(0.9,1)" font-size="11.6" fill="#fff" text-anchor="middle" stroke="#fff" stroke-width="0.3">Tzomet</text>
<text transform="translate(53.48,1045.4) rotate(90) scale(0.9,1)" font-size="11.6" fill="#fff" text-anchor="middle" stroke="#fff" stroke-width="0.3">Hadash</text>
<text transform="translate(75.62,1045.4) rotate(90) scale(0.87,1)" font-size="11.6" fill="#fff" text-anchor="middle" stroke="#fff" stroke-width="0.3">CRM</text>
<text transform="translate(105.14,1045.4) rotate(90) scale(0.87,1)" font-size="11.6" fill="#fff" text-anchor="middle" stroke="#fff" stroke-width="0.3">MAPAM</text>
<text transform="translate(212.46,1050) scale(1.03,1)" font-size="11.6" fill="#fff" text-anchor="middle" stroke="#fff" stroke-width="0.3">Alignment</text>
<text transform="translate(332.84,1045.4) rotate(90) scale(0.9,1)" font-size="11.6" fill="#fff" text-anchor="middle" stroke="#fff" stroke-width="0.3">Agudat</text>
<text transform="translate(320.24,1045.4) rotate(90) scale(0.9,1)" font-size="11.6" fill="#fff" text-anchor="middle" stroke="#fff" stroke-width="0.3">Yisrael</text>
<text transform="translate(353.6,1045.4) rotate(90) scale(0.9,1)" font-size="11.6" fill="#fff" text-anchor="middle" stroke="#fff" stroke-width="0.3">Shas</text>
<text transform="translate(470.76,1044.3) scale(1.03,1)" font-size="11.6" fill="#fff" text-anchor="middle" stroke="#fff" stroke-width="0.3">Likud</text>
<text transform="translate(470.76,1055.7) scale(0.95,1)" font-size="11" fill="#fff" text-anchor="middle" font-style="italic" stroke="#fff" stroke-width="0.15">(PM: Shamir)</text>
<text transform="translate(581.46,1050) scale(0.97,1)" font-size="11.6" fill="#fff" text-anchor="middle" stroke="#fff" stroke-width="0.3">NRP</text>
<text transform="translate(597.14,1045.4) rotate(90) scale(0.9,1)" font-size="11.6" fill="#fff" text-anchor="middle" stroke="#fff" stroke-width="0.3">Tehiya</text>
<text transform="translate(51.02,1125.1) rotate(90) scale(0.9,1)" font-size="11.6" fill="#fff" text-anchor="middle" stroke="#fff" stroke-width="0.3">Hadash</text>
<text transform="translate(91.92,1129.7) scale(1.03,1)" font-size="11.6" fill="#fff" text-anchor="middle" stroke="#fff" stroke-width="0.3">Meretz</text>
<text transform="translate(229.68,1124) scale(1.03,1)" font-size="11.6" fill="#fff" text-anchor="middle" stroke="#fff" stroke-width="0.3">Labor</text>
<text transform="translate(229.68,1135.4) scale(0.95,1)" font-size="11" fill="#fff" text-anchor="middle" font-style="italic" stroke="#fff" stroke-width="0.15">(PM: Rabin/Peres)</text>
<text transform="translate(347.76,1129.7) scale(0.79,1)" font-size="11.6" fill="#fff" text-anchor="middle" stroke="#fff" stroke-width="0.3">UTJ</text>
<text transform="translate(372.36,1129.7) scale(0.93,1)" font-size="11.6" fill="#fff" text-anchor="middle" stroke="#fff" stroke-width="0.3">Shas</text>
<text transform="translate(465.84,1129.7) scale(1.03,1)" font-size="11.6" fill="#fff" text-anchor="middle" stroke="#fff" stroke-width="0.3">Likud</text>
<text transform="translate(559.32,1129.7) scale(0.97,1)" font-size="11.6" fill="#fff" text-anchor="middle" stroke="#fff" stroke-width="0.3">NRP</text>
<text transform="translate(589.76,1125.1) rotate(90) scale(0.9,1)" font-size="11.6" fill="#fff" text-anchor="middle" stroke="#fff" stroke-width="0.3">Tzomet</text>
<text transform="translate(616.82,1125.1) rotate(90) scale(0.9,1)" font-size="11.6" fill="#fff" text-anchor="middle" stroke="#fff" stroke-width="0.3">Moledet</text>
<text transform="translate(43.64,1204.8) rotate(90) scale(0.9,1)" font-size="11.6" fill="#fff" text-anchor="middle" stroke="#fff" stroke-width="0.3">Raam</text>
<text transform="translate(72.08,1204.8) rotate(90) scale(0.9,1)" font-size="11.6" fill="#fff" text-anchor="middle" stroke="#fff" stroke-width="0.3">Hadash-</text>
<text transform="translate(59.48,1204.8) rotate(90) scale(0.9,1)" font-size="11.6" fill="#fff" text-anchor="middle" stroke="#fff" stroke-width="0.3">Balad</text>
<text transform="translate(104.22,1209.4) scale(1.03,1)" font-size="11.6" fill="#fff" text-anchor="middle" stroke="#fff" stroke-width="0.3">Meretz</text>
<text transform="translate(210,1209.4) scale(1.03,1)" font-size="11.6" fill="#fff" text-anchor="middle" stroke="#fff" stroke-width="0.3">Labor</text>
<text transform="translate(312.34,1203.7) scale(1.03,1)" font-size="11.6" fill="#fff" text-anchor="end" stroke="#fff" stroke-width="0.3">Third</text>
<text transform="translate(312.34,1215.1) scale(1.03,1)" font-size="11.6" fill="#fff" text-anchor="end" stroke="#fff" stroke-width="0.3">Way</text>
<text transform="translate(330.54,1198) scale(1.03,1)" font-size="11.6" fill="#fff" text-anchor="middle" stroke="#fff" stroke-width="0.3">Yisrael</text>
<text transform="translate(330.54,1209.4) scale(1.03,1)" font-size="11.6" fill="#fff" text-anchor="middle" stroke="#fff" stroke-width="0.3">Ba’a-</text>
<text transform="translate(330.54,1220.8) scale(1.03,1)" font-size="11.6" fill="#fff" text-anchor="middle" stroke="#fff" stroke-width="0.3">liya</text>
<text transform="translate(392.04,1209.4) scale(0.93,1)" font-size="11.6" fill="#fff" text-anchor="middle" stroke="#fff" stroke-width="0.3">Shas</text>
<text transform="translate(495.36,1198) scale(1.03,1)" font-size="11.6" fill="#fff" text-anchor="middle" stroke="#fff" stroke-width="0.3">Likud-Gesher-</text>
<text transform="translate(495.36,1209.4) scale(1.03,1)" font-size="11.6" fill="#fff" text-anchor="middle" stroke="#fff" stroke-width="0.3">Tzomet</text>
<text transform="translate(495.36,1220.8) scale(0.95,1)" font-size="11" fill="#fff" text-anchor="middle" font-style="italic" stroke="#fff" stroke-width="0.15">(PM: Netanyahu)</text>
<text transform="translate(596.22,1209.4) scale(0.97,1)" font-size="11.6" fill="#fff" text-anchor="middle" stroke="#fff" stroke-width="0.3">NRP</text>
<text transform="translate(55.94,1284.5) rotate(90) scale(0.9,1)" font-size="11.6" fill="#fff" text-anchor="middle" stroke="#fff" stroke-width="0.3">Raam</text>
<text transform="translate(111.6,1289.1) scale(1.03,1)" font-size="11.6" fill="#fff" text-anchor="middle" stroke="#fff" stroke-width="0.3">Meretz</text>
<text transform="translate(210,1283.4) scale(1.03,1)" font-size="11.6" fill="#fff" text-anchor="middle" stroke="#fff" stroke-width="0.3">One Israel</text>
<text transform="translate(210,1294.8) scale(0.95,1)" font-size="11" fill="#fff" text-anchor="middle" font-style="italic" stroke="#fff" stroke-width="0.15">(PM: Barak)</text>
<text transform="translate(302,1283.4) scale(1.03,1)" font-size="11.6" fill="#fff" text-anchor="end" stroke="#fff" stroke-width="0.3">Center</text>
<text transform="translate(302,1294.8) scale(1.03,1)" font-size="11.6" fill="#fff" text-anchor="end" stroke="#fff" stroke-width="0.3">Party</text>
<text transform="translate(314.24,1284.5) rotate(90) scale(0.9,1)" font-size="11.6" fill="#fff" text-anchor="middle" stroke="#fff" stroke-width="0.3">Shinui</text>
<text transform="translate(428.94,1289.1) scale(0.93,1)" font-size="11.6" fill="#fff" text-anchor="middle" stroke="#fff" stroke-width="0.3">Shas</text>
<text transform="translate(517.5,1283.4) scale(1.03,1)" font-size="11.6" fill="#fff" text-anchor="middle" stroke="#fff" stroke-width="0.3">Likud</text>
<text transform="translate(517.5,1294.8) scale(0.95,1)" font-size="11" fill="#fff" text-anchor="middle" font-style="italic" stroke="#fff" stroke-width="0.15">(PM: Sharon)</text>
<text transform="translate(41.18,1364.2) rotate(90) scale(0.9,1)" font-size="11.6" fill="#fff" text-anchor="middle" stroke="#fff" stroke-width="0.3">Balad</text>
<text transform="translate(87.92,1364.2) rotate(90) scale(0.9,1)" font-size="11.6" fill="#fff" text-anchor="middle" stroke="#fff" stroke-width="0.3">Meretz</text>
<text transform="translate(110.06,1360.7) rotate(90) scale(0.9,1)" font-size="11.6" fill="#fff" text-anchor="middle" stroke="#fff" stroke-width="0.3">Am Echad</text>
<text transform="translate(168.18,1368.8) scale(1.03,1)" font-size="11.6" fill="#fff" text-anchor="middle" stroke="#fff" stroke-width="0.3">Labor</text>
<text transform="translate(251.82,1368.8) scale(1.03,1)" font-size="11.6" fill="#fff" text-anchor="middle" stroke="#fff" stroke-width="0.3">Shinui</text>
<text transform="translate(310.86,1368.8) scale(0.79,1)" font-size="11.6" fill="#fff" text-anchor="middle" stroke="#fff" stroke-width="0.3">UTJ</text>
<text transform="translate(350.22,1368.8) scale(0.93,1)" font-size="11.6" fill="#fff" text-anchor="middle" stroke="#fff" stroke-width="0.3">Shas</text>
<text transform="translate(470.76,1363.1) scale(1.03,1)" font-size="11.6" fill="#fff" text-anchor="middle" stroke="#fff" stroke-width="0.3">Likud</text>
<text transform="translate(470.76,1374.5) scale(0.95,1)" font-size="11" fill="#fff" text-anchor="middle" font-style="italic" stroke="#fff" stroke-width="0.15">(PM: Sharon)</text>
<text transform="translate(579,1368.8) scale(0.97,1)" font-size="11.6" fill="#fff" text-anchor="middle" stroke="#fff" stroke-width="0.3">NRP</text>
<text transform="translate(610.98,1363.1) scale(1.03,1)" font-size="11.6" fill="#fff" text-anchor="middle" stroke="#fff" stroke-width="0.3">Nat.</text>
<text transform="translate(610.98,1374.5) scale(1.03,1)" font-size="11.6" fill="#fff" text-anchor="middle" stroke="#fff" stroke-width="0.3">Union</text>
<text transform="translate(41.18,1443.9) rotate(90) scale(0.9,1)" font-size="11.6" fill="#fff" text-anchor="middle" stroke="#fff" stroke-width="0.3">Balad</text>
<text transform="translate(58.4,1448.9) rotate(90) scale(0.9,1)" font-size="11.6" fill="#fff" text-anchor="middle" stroke="#fff" stroke-width="0.3">Raam-Taal</text>
<text transform="translate(75.62,1443.9) rotate(90) scale(0.9,1)" font-size="11.6" fill="#fff" text-anchor="middle" stroke="#fff" stroke-width="0.3">Hadash</text>
<text transform="translate(158.34,1448.5) scale(1.03,1)" font-size="11.6" fill="#fff" text-anchor="middle" stroke="#fff" stroke-width="0.3">Labor</text>
<text transform="translate(222.3,1448.5) scale(1.03,1)" font-size="11.6" fill="#fff" text-anchor="middle" stroke="#fff" stroke-width="0.3">Pensioners</text>
<text transform="translate(310.86,1442.8) scale(1.03,1)" font-size="11.6" fill="#fff" text-anchor="middle" stroke="#fff" stroke-width="0.3">Kadima</text>
<text transform="translate(310.86,1454.2) scale(0.95,1)" font-size="11" fill="#fff" text-anchor="middle" font-style="italic" stroke="#fff" stroke-width="0.15">(PM: Olmert)</text>
<text transform="translate(396.96,1448.5) scale(0.79,1)" font-size="11.6" fill="#fff" text-anchor="middle" stroke="#fff" stroke-width="0.3">UTJ</text>
<text transform="translate(441.24,1448.5) scale(0.93,1)" font-size="11.6" fill="#fff" text-anchor="middle" stroke="#fff" stroke-width="0.3">Shas</text>
<text transform="translate(500.28,1448.5) scale(1.03,1)" font-size="11.6" fill="#fff" text-anchor="middle" stroke="#fff" stroke-width="0.3">Likud</text>
<text transform="translate(551.94,1437.1) scale(1.03,1)" font-size="11.6" fill="#fff" text-anchor="middle" stroke="#fff" stroke-width="0.3">Nat.</text>
<text transform="translate(551.94,1448.5) scale(1.03,1)" font-size="11.6" fill="#fff" text-anchor="middle" stroke="#fff" stroke-width="0.3">Union-</text>
<text transform="translate(551.94,1459.9) scale(0.97,1)" font-size="11.6" fill="#fff" text-anchor="middle" stroke="#fff" stroke-width="0.3">NRP</text>
<text transform="translate(601.14,1442.8) scale(1.03,1)" font-size="11.6" fill="#fff" text-anchor="middle" stroke="#fff" stroke-width="0.3">Yisrael</text>
<text transform="translate(601.14,1454.2) scale(1.03,1)" font-size="11.6" fill="#fff" text-anchor="middle" stroke="#fff" stroke-width="0.3">Beiteinu</text>
<text transform="translate(41.18,1523.6) rotate(90) scale(0.9,1)" font-size="11.6" fill="#fff" text-anchor="middle" stroke="#fff" stroke-width="0.3">Balad</text>
<text transform="translate(138.66,1528.2) scale(1.03,1)" font-size="11.6" fill="#fff" text-anchor="middle" stroke="#fff" stroke-width="0.3">Labor</text>
<text transform="translate(239.52,1528.2) scale(1.03,1)" font-size="11.6" fill="#fff" text-anchor="middle" stroke="#fff" stroke-width="0.3">Kadima</text>
<text transform="translate(320.7,1528.2) scale(0.79,1)" font-size="11.6" fill="#fff" text-anchor="middle" stroke="#fff" stroke-width="0.3">UTJ</text>
<text transform="translate(360.06,1528.2) scale(0.93,1)" font-size="11.6" fill="#fff" text-anchor="middle" stroke="#fff" stroke-width="0.3">Shas</text>
<text transform="translate(453.54,1522.5) scale(1.03,1)" font-size="11.6" fill="#fff" text-anchor="middle" stroke="#fff" stroke-width="0.3">Likud</text>
<text transform="translate(453.54,1533.9) scale(0.95,1)" font-size="11" fill="#fff" text-anchor="middle" font-style="italic" stroke="#fff" stroke-width="0.15">(PM: Netanyahu)</text>
<text transform="translate(544.56,1522.5) scale(1.03,1)" font-size="11.6" fill="#fff" text-anchor="middle" stroke="#fff" stroke-width="0.3">Nat.</text>
<text transform="translate(544.56,1533.9) scale(1.03,1)" font-size="11.6" fill="#fff" text-anchor="middle" stroke="#fff" stroke-width="0.3">Union</text>
<text transform="translate(591.3,1522.5) scale(1.03,1)" font-size="11.6" fill="#fff" text-anchor="middle" stroke="#fff" stroke-width="0.3">Yisrael</text>
<text transform="translate(591.3,1533.9) scale(1.03,1)" font-size="11.6" fill="#fff" text-anchor="middle" stroke="#fff" stroke-width="0.3">Beiteinu</text>
<text transform="translate(58.4,1603.3) rotate(90) scale(0.87,1)" font-size="11.6" fill="#fff" text-anchor="middle" stroke="#fff" stroke-width="0.3">UAL</text>
<text transform="translate(78.08,1603.3) rotate(90) scale(0.9,1)" font-size="11.6" fill="#fff" text-anchor="middle" stroke="#fff" stroke-width="0.3">Hadash</text>
<text transform="translate(102.68,1603.3) rotate(90) scale(0.9,1)" font-size="11.6" fill="#fff" text-anchor="middle" stroke="#fff" stroke-width="0.3">Meretz</text>
<text transform="translate(158.34,1607.9) scale(1.03,1)" font-size="11.6" fill="#fff" text-anchor="middle" stroke="#fff" stroke-width="0.3">Labor</text>
<text transform="translate(215.84,1603.3) rotate(90) scale(0.9,1)" font-size="11.6" fill="#fff" text-anchor="middle" stroke="#fff" stroke-width="0.3">Ha’tnuah</text>
<text transform="translate(281.34,1607.9) scale(1.03,1)" font-size="11.6" fill="#fff" text-anchor="middle" stroke="#fff" stroke-width="0.3">Yesh Atid</text>
<text transform="translate(345.3,1607.9) scale(0.79,1)" font-size="11.6" fill="#fff" text-anchor="middle" stroke="#fff" stroke-width="0.3">UTJ</text>
<text transform="translate(389.58,1607.9) scale(0.93,1)" font-size="11.6" fill="#fff" text-anchor="middle" stroke="#fff" stroke-width="0.3">Shas</text>
<text transform="translate(492.9,1596.5) scale(1.03,1)" font-size="11.6" fill="#fff" text-anchor="middle" stroke="#fff" stroke-width="0.3">Likud-Yisrael</text>
<text transform="translate(492.9,1607.9) scale(1.03,1)" font-size="11.6" fill="#fff" text-anchor="middle" stroke="#fff" stroke-width="0.3">Beiteinu</text>
<text transform="translate(492.9,1619.3) scale(0.95,1)" font-size="11" fill="#fff" text-anchor="middle" font-style="italic" stroke="#fff" stroke-width="0.15">(PM: Netanyahu)</text>
<text transform="translate(598.68,1602.2) scale(1.03,1)" font-size="11.6" fill="#fff" text-anchor="middle" stroke="#fff" stroke-width="0.3">Habayit</text>
<text transform="translate(598.68,1613.6) scale(1.03,1)" font-size="11.6" fill="#fff" text-anchor="middle" stroke="#fff" stroke-width="0.3">Hayehudi</text>
<text transform="translate(69.78,1681.9) scale(1.03,1)" font-size="11.6" fill="#fff" text-anchor="middle" stroke="#fff" stroke-width="0.3">Joint</text>
<text transform="translate(69.78,1693.3) scale(1.03,1)" font-size="11.6" fill="#fff" text-anchor="middle" stroke="#fff" stroke-width="0.3">List</text>
<text transform="translate(110.06,1683) rotate(90) scale(0.9,1)" font-size="11.6" fill="#fff" text-anchor="middle" stroke="#fff" stroke-width="0.3">Meretz</text>
<text transform="translate(185.4,1687.6) scale(1.03,1)" font-size="11.6" fill="#fff" text-anchor="middle" stroke="#fff" stroke-width="0.3">Zionist Union</text>
<text transform="translate(271.5,1681.9) scale(1.03,1)" font-size="11.6" fill="#fff" text-anchor="middle" stroke="#fff" stroke-width="0.3">Yesh</text>
<text transform="translate(271.5,1693.3) scale(1.03,1)" font-size="11.6" fill="#fff" text-anchor="middle" stroke="#fff" stroke-width="0.3">Atid</text>
<text transform="translate(323.16,1687.6) scale(1.03,1)" font-size="11.6" fill="#fff" text-anchor="middle" stroke="#fff" stroke-width="0.3">Kulanu</text>
<text transform="translate(362.52,1687.6) scale(0.79,1)" font-size="11.6" fill="#fff" text-anchor="middle" stroke="#fff" stroke-width="0.3">UTJ</text>
<text transform="translate(394.5,1687.6) scale(0.93,1)" font-size="11.6" fill="#fff" text-anchor="middle" stroke="#fff" stroke-width="0.3">Shas</text>
<text transform="translate(485.52,1681.9) scale(1.03,1)" font-size="11.6" fill="#fff" text-anchor="middle" stroke="#fff" stroke-width="0.3">Likud</text>
<text transform="translate(485.52,1693.3) scale(0.95,1)" font-size="11" fill="#fff" text-anchor="middle" font-style="italic" stroke="#fff" stroke-width="0.15">(PM: Netanyahu)</text>
<text transform="translate(598.19,1681.9) scale(1.03,1)" font-size="11.6" fill="#fff" text-anchor="end" stroke="#fff" stroke-width="0.3">Habayit</text>
<text transform="translate(598.19,1693.3) scale(1.03,1)" font-size="11.6" fill="#fff" text-anchor="end" stroke="#fff" stroke-width="0.3">Hayehudi</text>
<text transform="translate(615.74,1683) rotate(90) scale(0.9,1)" font-size="11.6" fill="#fff" text-anchor="middle" stroke="#fff" stroke-width="0.3">Yisrael</text>
<text transform="translate(603.14,1683) rotate(90) scale(0.9,1)" font-size="11.6" fill="#fff" text-anchor="middle" stroke="#fff" stroke-width="0.3">Beiteinu</text>
<text transform="translate(57.32,1762.7) rotate(90) scale(0.9,1)" font-size="11.6" fill="#fff" text-anchor="middle" stroke="#fff" stroke-width="0.3">Hadash-</text>
<text transform="translate(44.72,1762.7) rotate(90) scale(0.9,1)" font-size="11.6" fill="#fff" text-anchor="middle" stroke="#fff" stroke-width="0.3">Taal</text>
<text transform="translate(78.08,1753.7) rotate(90) scale(0.9,1)" font-size="11.6" fill="#fff" text-anchor="middle" stroke="#fff" stroke-width="0.3">Raam-Balad</text>
<text transform="translate(100.22,1762.7) rotate(90) scale(0.9,1)" font-size="11.6" fill="#fff" text-anchor="middle" stroke="#fff" stroke-width="0.3">Meretz</text>
<text transform="translate(141.12,1767.3) scale(1.03,1)" font-size="11.6" fill="#fff" text-anchor="middle" stroke="#fff" stroke-width="0.3">Labor</text>
<text transform="translate(237.06,1767.3) scale(1.03,1)" font-size="11.6" fill="#fff" text-anchor="middle" stroke="#fff" stroke-width="0.3">Blue &amp; White</text>
<text transform="translate(316.7,1762.7) rotate(90) scale(0.9,1)" font-size="11.6" fill="#fff" text-anchor="middle" stroke="#fff" stroke-width="0.3">Kulanu</text>
<text transform="translate(350.22,1767.3) scale(0.79,1)" font-size="11.6" fill="#fff" text-anchor="middle" stroke="#fff" stroke-width="0.3">UTJ</text>
<text transform="translate(379.74,1767.3) scale(0.93,1)" font-size="11.6" fill="#fff" text-anchor="middle" stroke="#fff" stroke-width="0.3">Shas</text>
<text transform="translate(458.46,1767.3) scale(1.03,1)" font-size="11.6" fill="#fff" text-anchor="middle" stroke="#fff" stroke-width="0.3">Likud</text>
<text transform="translate(541.94,1762.7) rotate(90) scale(0.9,1)" font-size="11.6" fill="#fff" text-anchor="middle" stroke="#fff" stroke-width="0.3">New</text>
<text transform="translate(529.34,1762.7) rotate(90) scale(0.9,1)" font-size="11.6" fill="#fff" text-anchor="middle" stroke="#fff" stroke-width="0.3">Right</text>
<text transform="translate(560.24,1762.7) rotate(90) scale(0.87,1)" font-size="11.6" fill="#fff" text-anchor="middle" stroke="#fff" stroke-width="0.3">Y.B.</text>
<text transform="translate(582.38,1762.7) rotate(90) scale(0.9,1)" font-size="11.6" fill="#fff" text-anchor="middle" stroke="#fff" stroke-width="0.3">Zehut</text>
<text transform="translate(615.74,1762.7) rotate(90) scale(0.9,1)" font-size="11.6" fill="#fff" text-anchor="middle" stroke="#fff" stroke-width="0.3">United</text>
<text transform="translate(603.14,1762.7) rotate(90) scale(0.9,1)" font-size="11.6" fill="#fff" text-anchor="middle" stroke="#fff" stroke-width="0.3">Right</text>
<text transform="translate(75.5,1271.2) rotate(90) scale(0.91,1)" font-size="11.6" fill="#fff" stroke="#fff" stroke-width="0.3">Hadash-</text>
<text transform="translate(75.2,1309.7) rotate(99) scale(0.91,1)" font-size="11.6" fill="#fff" stroke="#fff" stroke-width="0.3">Taal</text>
<text transform="translate(0.5,172.7) scale(0.96,1)" font-size="12.2" fill="#121212">1949</text>
<text transform="translate(0.5,252.4) scale(0.96,1)" font-size="12.2" fill="#121212">1951</text>
<text transform="translate(0.5,332.1) scale(0.96,1)" font-size="12.2" fill="#121212">1955</text>
<text transform="translate(0.5,411.8) scale(0.96,1)" font-size="12.2" fill="#121212">1959</text>
<text transform="translate(0.5,491.5) scale(0.96,1)" font-size="12.2" fill="#121212">1961</text>
<text transform="translate(0.5,571.2) scale(0.96,1)" font-size="12.2" fill="#121212">1965</text>
<text transform="translate(0.5,650.9) scale(0.96,1)" font-size="12.2" fill="#121212">1969</text>
<text transform="translate(0.5,730.6) scale(0.96,1)" font-size="12.2" fill="#121212">1973</text>
<text transform="translate(0.5,810.3) scale(0.96,1)" font-size="12.2" fill="#121212">1977</text>
<text transform="translate(0.5,890) scale(0.96,1)" font-size="12.2" fill="#121212">1981</text>
<text transform="translate(0.5,969.7) scale(0.96,1)" font-size="12.2" fill="#121212">1984</text>
<text transform="translate(0.5,1049.4) scale(0.96,1)" font-size="12.2" fill="#121212">1988</text>
<text transform="translate(0.5,1129.1) scale(0.96,1)" font-size="12.2" fill="#121212">1992</text>
<text transform="translate(0.5,1208.8) scale(0.96,1)" font-size="12.2" fill="#121212">1996</text>
<text transform="translate(0.5,1288.5) scale(0.96,1)" font-size="12.2" fill="#121212">1999</text>
<text transform="translate(0.5,1368.2) scale(0.96,1)" font-size="12.2" fill="#121212">2003</text>
<text transform="translate(0.5,1447.9) scale(0.96,1)" font-size="12.2" fill="#121212">2006</text>
<text transform="translate(0.5,1527.6) scale(0.96,1)" font-size="12.2" fill="#121212">2009</text>
<text transform="translate(0.5,1607.3) scale(0.96,1)" font-size="12.2" fill="#121212">2013</text>
<text transform="translate(0.5,1687) scale(0.96,1)" font-size="12.2" fill="#121212">2015</text>
<text transform="translate(0.5,1766.7) scale(0.96,1)" font-size="12.2" fill="#121212">2019*</text>
<text transform="translate(0,1821.6) scale(0.9,1)" font-size="10.7" fill="#444">Sources: Haaretz.com; Knesset; Israel Democracy Institute; Project 61; <tspan font-style="italic">The Economist</tspan></text>
<text transform="translate(638.5,1821.6) scale(0.9,1)" font-size="10.7" fill="#444" text-anchor="end">*Forecast based on poll of four polls to April 5th</text>
<text x="0.5" y="1847" font-family='"Liberation Serif", serif' font-size="13.3" fill="#757575" stroke="#757575" stroke-width="0.2" letter-spacing="0.35">The Economist</text>
</svg>
</body></html>
